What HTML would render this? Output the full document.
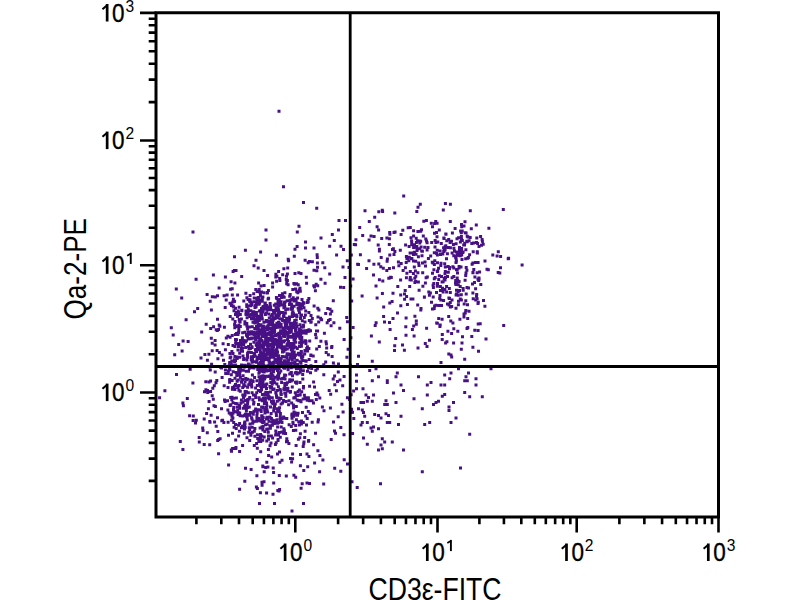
<!DOCTYPE html>
<html><head><meta charset="utf-8"><style>
html,body{margin:0;padding:0;background:#fff;width:800px;height:600px;overflow:hidden}
svg{display:block}
text{font-family:"Liberation Sans",sans-serif;fill:#000}
.tk{font-size:25px;stroke:#000;stroke-width:0.35px}
.sp{font-size:15.6px}
.ti{font-size:30.5px}
</style></head><body>
<svg width="800" height="600" viewBox="0 0 800 600">
<path d="M277.5 109.8h3.0v3.0h-3.0zM282.0 185.2h3.0v3.0h-3.0zM302.0 201.0h3.0v3.0h-3.0zM315.2 206.8h3.0v3.0h-3.0zM191.5 230.5h3.0v3.0h-3.0zM264.5 228.5h3.0v3.0h-3.0zM264.5 238.5h3.0v3.0h-3.0zM297.5 224.8h3.0v3.0h-3.0zM295.8 230.5h3.0v3.0h-3.0zM337.5 219.0h3.0v3.0h-3.0zM344.0 219.0h3.0v3.0h-3.0zM337.0 228.5h3.0v3.0h-3.0zM330.8 233.0h3.0v3.0h-3.0zM319.5 236.5h3.0v3.0h-3.0zM332.8 239.0h3.0v3.0h-3.0zM304.0 240.5h3.0v3.0h-3.0zM304.0 246.5h3.0v3.0h-3.0zM312.5 246.5h3.0v3.0h-3.0zM328.2 244.8h3.0v3.0h-3.0zM339.5 244.8h3.0v3.0h-3.0zM342.0 248.0h3.0v3.0h-3.0zM352.8 243.0h3.0v3.0h-3.0zM357.0 354.8h3.0v3.0h-3.0zM370.8 359.8h3.0v3.0h-3.0zM449.5 353.5h3.0v3.0h-3.0zM450.2 355.5h3.0v3.0h-3.0zM463.2 357.8h3.0v3.0h-3.0zM477.0 349.8h3.0v3.0h-3.0zM439.5 361.0h3.0v3.0h-3.0zM368.2 369.0h3.0v3.0h-3.0zM374.5 367.2h3.0v3.0h-3.0zM355.0 373.5h3.0v3.0h-3.0zM377.0 375.2h3.0v3.0h-3.0zM395.8 371.5h3.0v3.0h-3.0zM394.5 375.2h3.0v3.0h-3.0zM417.0 375.2h3.0v3.0h-3.0zM443.2 373.5h3.0v3.0h-3.0zM449.5 371.5h3.0v3.0h-3.0zM457.0 367.2h3.0v3.0h-3.0zM467.0 371.5h3.0v3.0h-3.0zM464.5 375.2h3.0v3.0h-3.0zM474.5 377.2h3.0v3.0h-3.0zM489.5 367.2h3.0v3.0h-3.0zM355.0 379.8h3.0v3.0h-3.0zM370.8 379.2h3.0v3.0h-3.0zM385.8 379.2h3.0v3.0h-3.0zM385.8 381.0h3.0v3.0h-3.0zM399.5 383.5h3.0v3.0h-3.0zM425.8 383.5h3.0v3.0h-3.0zM429.5 381.0h3.0v3.0h-3.0zM439.5 383.5h3.0v3.0h-3.0zM443.2 383.5h3.0v3.0h-3.0zM448.2 377.2h3.0v3.0h-3.0zM463.2 379.2h3.0v3.0h-3.0zM465.8 379.2h3.0v3.0h-3.0zM474.5 383.5h3.0v3.0h-3.0zM355.0 387.2h3.0v3.0h-3.0zM361.5 387.2h3.0v3.0h-3.0zM402.0 389.0h3.0v3.0h-3.0zM392.0 391.5h3.0v3.0h-3.0zM364.5 393.5h3.0v3.0h-3.0zM367.0 396.0h3.0v3.0h-3.0zM372.0 393.5h3.0v3.0h-3.0zM425.8 393.5h3.0v3.0h-3.0zM440.8 394.8h3.0v3.0h-3.0zM443.2 393.0h3.0v3.0h-3.0zM463.2 391.0h3.0v3.0h-3.0zM468.2 395.2h3.0v3.0h-3.0zM480.8 395.2h3.0v3.0h-3.0zM359.5 401.0h3.0v3.0h-3.0zM362.0 401.0h3.0v3.0h-3.0zM370.8 399.8h3.0v3.0h-3.0zM365.8 399.8h3.0v3.0h-3.0zM384.5 399.2h3.0v3.0h-3.0zM385.8 403.0h3.0v3.0h-3.0zM383.2 403.0h3.0v3.0h-3.0zM394.5 401.0h3.0v3.0h-3.0zM412.5 397.2h3.0v3.0h-3.0zM432.0 403.0h3.0v3.0h-3.0zM434.5 401.0h3.0v3.0h-3.0zM437.0 399.8h3.0v3.0h-3.0zM452.0 401.0h3.0v3.0h-3.0zM447.5 405.5h3.0v3.0h-3.0zM447.5 409.0h3.0v3.0h-3.0zM420.8 407.2h3.0v3.0h-3.0zM357.0 407.2h3.0v3.0h-3.0zM360.8 408.5h3.0v3.0h-3.0zM362.0 411.0h3.0v3.0h-3.0zM363.2 414.8h3.0v3.0h-3.0zM373.2 413.0h3.0v3.0h-3.0zM377.0 414.0h3.0v3.0h-3.0zM379.5 416.5h3.0v3.0h-3.0zM384.5 412.2h3.0v3.0h-3.0zM387.0 414.0h3.0v3.0h-3.0zM399.5 414.8h3.0v3.0h-3.0zM360.8 421.0h3.0v3.0h-3.0zM359.5 423.5h3.0v3.0h-3.0zM365.8 421.0h3.0v3.0h-3.0zM385.8 421.0h3.0v3.0h-3.0zM388.2 421.0h3.0v3.0h-3.0zM397.0 423.0h3.0v3.0h-3.0zM423.2 423.0h3.0v3.0h-3.0zM428.2 421.0h3.0v3.0h-3.0zM449.5 421.0h3.0v3.0h-3.0zM454.5 416.5h3.0v3.0h-3.0zM369.5 426.5h3.0v3.0h-3.0zM372.0 425.5h3.0v3.0h-3.0zM370.8 429.8h3.0v3.0h-3.0zM377.0 427.2h3.0v3.0h-3.0zM362.0 436.5h3.0v3.0h-3.0zM365.8 442.8h3.0v3.0h-3.0zM380.8 437.2h3.0v3.0h-3.0zM383.2 440.5h3.0v3.0h-3.0zM390.8 440.5h3.0v3.0h-3.0zM379.5 443.5h3.0v3.0h-3.0zM377.0 448.5h3.0v3.0h-3.0zM380.8 447.2h3.0v3.0h-3.0zM402.0 448.5h3.0v3.0h-3.0zM468.2 432.8h3.0v3.0h-3.0zM459.0 466.5h3.0v3.0h-3.0zM420.8 470.2h3.0v3.0h-3.0zM379.0 482.2h3.0v3.0h-3.0zM507.1 256.7h3.0v3.0h-3.0zM258.0 502.0h3.0v3.0h-3.0zM273.0 502.0h3.0v3.0h-3.0zM290.5 509.5h3.0v3.0h-3.0zM302.0 502.0h3.0v3.0h-3.0zM363.5 209.2h3.0v3.0h-3.0zM381.1 209.9h3.0v3.0h-3.0zM361.2 234.0h3.0v3.0h-3.0zM373.2 215.8h3.0v3.0h-3.0zM377.3 210.3h3.0v3.0h-3.0zM380.8 208.7h3.0v3.0h-3.0zM402.2 194.6h3.0v3.0h-3.0zM393.3 211.4h3.0v3.0h-3.0zM418.8 202.8h3.0v3.0h-3.0zM416.5 205.8h3.0v3.0h-3.0zM415.3 209.9h3.0v3.0h-3.0zM429.8 221.7h3.0v3.0h-3.0zM433.1 222.0h3.0v3.0h-3.0zM443.9 201.9h3.0v3.0h-3.0zM448.9 202.7h3.0v3.0h-3.0zM441.8 208.5h3.0v3.0h-3.0zM468.8 209.3h3.0v3.0h-3.0zM501.8 208.1h3.0v3.0h-3.0zM377.1 228.5h3.0v3.0h-3.0zM367.6 238.5h3.0v3.0h-3.0zM354.1 243.2h3.0v3.0h-3.0zM354.4 238.2h3.0v3.0h-3.0zM369.5 234.6h3.0v3.0h-3.0zM358.2 225.9h3.0v3.0h-3.0zM375.6 225.2h3.0v3.0h-3.0zM372.6 234.9h3.0v3.0h-3.0zM367.8 219.9h3.0v3.0h-3.0zM385.4 236.6h3.0v3.0h-3.0zM388.4 232.7h3.0v3.0h-3.0zM392.5 231.0h3.0v3.0h-3.0zM406.7 226.2h3.0v3.0h-3.0zM376.7 243.4h3.0v3.0h-3.0zM393.4 250.1h3.0v3.0h-3.0zM391.9 247.3h3.0v3.0h-3.0zM404.1 243.6h3.0v3.0h-3.0zM387.8 242.9h3.0v3.0h-3.0zM393.6 230.5h3.0v3.0h-3.0zM387.9 237.2h3.0v3.0h-3.0zM380.2 236.9h3.0v3.0h-3.0zM388.2 231.1h3.0v3.0h-3.0zM401.3 228.7h3.0v3.0h-3.0zM418.0 239.6h3.0v3.0h-3.0zM424.3 237.6h3.0v3.0h-3.0zM412.1 246.0h3.0v3.0h-3.0zM415.6 248.9h3.0v3.0h-3.0zM431.0 225.3h3.0v3.0h-3.0zM423.2 245.8h3.0v3.0h-3.0zM413.7 245.8h3.0v3.0h-3.0zM412.1 229.3h3.0v3.0h-3.0zM434.4 241.1h3.0v3.0h-3.0zM419.2 239.7h3.0v3.0h-3.0zM413.0 243.2h3.0v3.0h-3.0zM415.9 239.3h3.0v3.0h-3.0zM422.3 219.7h3.0v3.0h-3.0zM421.8 234.6h3.0v3.0h-3.0zM410.1 239.4h3.0v3.0h-3.0zM433.0 231.8h3.0v3.0h-3.0zM419.2 229.8h3.0v3.0h-3.0zM425.6 241.3h3.0v3.0h-3.0zM425.0 239.4h3.0v3.0h-3.0zM410.2 240.9h3.0v3.0h-3.0zM414.9 241.0h3.0v3.0h-3.0zM416.4 229.9h3.0v3.0h-3.0zM415.3 245.0h3.0v3.0h-3.0zM418.2 247.2h3.0v3.0h-3.0zM409.5 236.2h3.0v3.0h-3.0zM399.6 233.1h3.0v3.0h-3.0zM424.9 219.1h3.0v3.0h-3.0zM419.6 245.6h3.0v3.0h-3.0zM412.1 234.6h3.0v3.0h-3.0zM418.3 241.6h3.0v3.0h-3.0zM426.5 246.0h3.0v3.0h-3.0zM414.7 236.7h3.0v3.0h-3.0zM408.8 225.9h3.0v3.0h-3.0zM420.0 228.2h3.0v3.0h-3.0zM410.2 243.3h3.0v3.0h-3.0zM448.9 246.3h3.0v3.0h-3.0zM448.8 219.9h3.0v3.0h-3.0zM433.6 239.1h3.0v3.0h-3.0zM446.8 246.1h3.0v3.0h-3.0zM450.0 239.7h3.0v3.0h-3.0zM439.0 252.9h3.0v3.0h-3.0zM442.6 237.0h3.0v3.0h-3.0zM444.3 232.5h3.0v3.0h-3.0zM439.8 241.9h3.0v3.0h-3.0zM442.6 249.5h3.0v3.0h-3.0zM435.0 230.9h3.0v3.0h-3.0zM444.3 244.2h3.0v3.0h-3.0zM437.8 228.4h3.0v3.0h-3.0zM445.3 239.2h3.0v3.0h-3.0zM444.2 245.8h3.0v3.0h-3.0zM436.3 240.4h3.0v3.0h-3.0zM435.5 235.3h3.0v3.0h-3.0zM447.2 238.0h3.0v3.0h-3.0zM445.9 252.3h3.0v3.0h-3.0zM457.0 236.3h3.0v3.0h-3.0zM450.9 231.5h3.0v3.0h-3.0zM435.6 221.8h3.0v3.0h-3.0zM448.6 241.0h3.0v3.0h-3.0zM444.5 232.7h3.0v3.0h-3.0zM433.5 245.4h3.0v3.0h-3.0zM434.2 220.1h3.0v3.0h-3.0zM454.6 242.2h3.0v3.0h-3.0zM430.2 241.1h3.0v3.0h-3.0zM442.3 236.4h3.0v3.0h-3.0zM459.8 231.2h3.0v3.0h-3.0zM459.9 247.8h3.0v3.0h-3.0zM464.6 231.6h3.0v3.0h-3.0zM475.0 240.9h3.0v3.0h-3.0zM467.6 239.3h3.0v3.0h-3.0zM468.7 235.9h3.0v3.0h-3.0zM460.0 238.0h3.0v3.0h-3.0zM481.7 242.8h3.0v3.0h-3.0zM480.9 239.7h3.0v3.0h-3.0zM460.0 222.9h3.0v3.0h-3.0zM475.7 251.1h3.0v3.0h-3.0zM476.1 241.9h3.0v3.0h-3.0zM475.3 236.4h3.0v3.0h-3.0zM459.9 235.0h3.0v3.0h-3.0zM480.0 243.7h3.0v3.0h-3.0zM460.8 239.1h3.0v3.0h-3.0zM472.1 241.6h3.0v3.0h-3.0zM465.7 240.2h3.0v3.0h-3.0zM465.7 234.8h3.0v3.0h-3.0zM460.7 229.6h3.0v3.0h-3.0zM453.6 226.9h3.0v3.0h-3.0zM462.5 224.4h3.0v3.0h-3.0zM470.3 242.1h3.0v3.0h-3.0zM463.2 241.7h3.0v3.0h-3.0zM463.0 243.5h3.0v3.0h-3.0zM458.7 254.3h3.0v3.0h-3.0zM474.8 223.6h3.0v3.0h-3.0zM466.5 235.4h3.0v3.0h-3.0zM458.9 240.4h3.0v3.0h-3.0zM480.6 237.9h3.0v3.0h-3.0zM465.3 239.8h3.0v3.0h-3.0zM463.5 220.2h3.0v3.0h-3.0zM459.1 229.4h3.0v3.0h-3.0zM469.8 227.2h3.0v3.0h-3.0zM457.9 248.6h3.0v3.0h-3.0zM455.5 237.3h3.0v3.0h-3.0zM463.8 231.2h3.0v3.0h-3.0zM460.2 225.2h3.0v3.0h-3.0zM462.2 243.6h3.0v3.0h-3.0zM496.8 250.3h3.0v3.0h-3.0zM479.1 234.9h3.0v3.0h-3.0zM477.5 245.1h3.0v3.0h-3.0zM491.3 253.4h3.0v3.0h-3.0zM487.4 226.8h3.0v3.0h-3.0zM231.6 270.1h3.0v3.0h-3.0zM233.0 255.3h3.0v3.0h-3.0zM243.9 248.8h3.0v3.0h-3.0zM232.9 268.9h3.0v3.0h-3.0zM254.5 258.7h3.0v3.0h-3.0zM259.1 250.4h3.0v3.0h-3.0zM274.4 272.8h3.0v3.0h-3.0zM256.7 266.4h3.0v3.0h-3.0zM274.9 253.8h3.0v3.0h-3.0zM252.5 264.3h3.0v3.0h-3.0zM266.1 273.9h3.0v3.0h-3.0zM277.1 269.9h3.0v3.0h-3.0zM282.4 267.2h3.0v3.0h-3.0zM287.1 259.3h3.0v3.0h-3.0zM285.9 272.4h3.0v3.0h-3.0zM285.0 274.8h3.0v3.0h-3.0zM292.8 254.8h3.0v3.0h-3.0zM310.9 260.3h3.0v3.0h-3.0zM293.5 271.9h3.0v3.0h-3.0zM293.5 247.7h3.0v3.0h-3.0zM306.7 261.3h3.0v3.0h-3.0zM286.7 257.8h3.0v3.0h-3.0zM286.2 266.5h3.0v3.0h-3.0zM295.6 244.9h3.0v3.0h-3.0zM315.9 261.6h3.0v3.0h-3.0zM315.6 253.3h3.0v3.0h-3.0zM321.3 261.2h3.0v3.0h-3.0zM308.0 260.0h3.0v3.0h-3.0zM323.3 266.2h3.0v3.0h-3.0zM315.8 256.0h3.0v3.0h-3.0zM315.3 269.2h3.0v3.0h-3.0zM303.6 258.8h3.0v3.0h-3.0zM312.5 268.8h3.0v3.0h-3.0zM316.0 265.8h3.0v3.0h-3.0zM349.8 253.5h3.0v3.0h-3.0zM347.5 266.1h3.0v3.0h-3.0zM341.5 265.6h3.0v3.0h-3.0zM345.8 259.3h3.0v3.0h-3.0zM335.1 253.5h3.0v3.0h-3.0zM351.6 277.5h3.0v3.0h-3.0zM358.9 253.3h3.0v3.0h-3.0zM372.0 273.5h3.0v3.0h-3.0zM372.4 262.8h3.0v3.0h-3.0zM367.5 259.3h3.0v3.0h-3.0zM356.1 262.7h3.0v3.0h-3.0zM357.0 263.0h3.0v3.0h-3.0zM379.3 265.3h3.0v3.0h-3.0zM365.1 266.9h3.0v3.0h-3.0zM392.0 266.3h3.0v3.0h-3.0zM385.9 257.4h3.0v3.0h-3.0zM392.5 252.9h3.0v3.0h-3.0zM385.6 259.7h3.0v3.0h-3.0zM389.8 276.1h3.0v3.0h-3.0zM381.8 266.8h3.0v3.0h-3.0zM385.3 269.1h3.0v3.0h-3.0zM397.4 264.2h3.0v3.0h-3.0zM399.1 278.6h3.0v3.0h-3.0zM398.8 248.7h3.0v3.0h-3.0zM401.6 269.0h3.0v3.0h-3.0zM396.9 260.6h3.0v3.0h-3.0zM404.9 255.1h3.0v3.0h-3.0zM377.3 262.5h3.0v3.0h-3.0zM405.4 271.8h3.0v3.0h-3.0zM389.1 275.8h3.0v3.0h-3.0zM391.0 248.1h3.0v3.0h-3.0zM404.7 261.1h3.0v3.0h-3.0zM379.7 256.1h3.0v3.0h-3.0zM387.9 267.1h3.0v3.0h-3.0zM388.3 253.4h3.0v3.0h-3.0zM377.9 249.4h3.0v3.0h-3.0zM377.9 247.8h3.0v3.0h-3.0zM431.0 271.8h3.0v3.0h-3.0zM425.6 248.6h3.0v3.0h-3.0zM416.9 255.2h3.0v3.0h-3.0zM421.2 271.3h3.0v3.0h-3.0zM412.8 251.1h3.0v3.0h-3.0zM399.7 261.9h3.0v3.0h-3.0zM408.6 251.4h3.0v3.0h-3.0zM409.9 251.6h3.0v3.0h-3.0zM413.9 269.6h3.0v3.0h-3.0zM406.3 256.5h3.0v3.0h-3.0zM403.9 266.3h3.0v3.0h-3.0zM413.0 250.8h3.0v3.0h-3.0zM415.5 247.7h3.0v3.0h-3.0zM410.4 257.1h3.0v3.0h-3.0zM420.2 249.4h3.0v3.0h-3.0zM433.3 259.3h3.0v3.0h-3.0zM416.4 271.3h3.0v3.0h-3.0zM404.9 276.3h3.0v3.0h-3.0zM417.5 264.1h3.0v3.0h-3.0zM417.2 261.5h3.0v3.0h-3.0zM412.8 265.5h3.0v3.0h-3.0zM426.9 257.1h3.0v3.0h-3.0zM414.2 259.8h3.0v3.0h-3.0zM421.0 261.5h3.0v3.0h-3.0zM407.8 255.7h3.0v3.0h-3.0zM405.4 257.3h3.0v3.0h-3.0zM414.5 252.7h3.0v3.0h-3.0zM413.3 276.7h3.0v3.0h-3.0zM432.8 277.2h3.0v3.0h-3.0zM407.6 245.0h3.0v3.0h-3.0zM420.9 249.8h3.0v3.0h-3.0zM424.6 276.3h3.0v3.0h-3.0zM412.0 259.6h3.0v3.0h-3.0zM410.1 257.3h3.0v3.0h-3.0zM411.9 272.1h3.0v3.0h-3.0zM425.8 275.4h3.0v3.0h-3.0zM408.8 270.0h3.0v3.0h-3.0zM412.0 253.1h3.0v3.0h-3.0zM432.4 268.3h3.0v3.0h-3.0zM407.3 259.2h3.0v3.0h-3.0zM424.0 264.6h3.0v3.0h-3.0zM420.5 254.2h3.0v3.0h-3.0zM442.2 250.0h3.0v3.0h-3.0zM432.9 262.9h3.0v3.0h-3.0zM443.8 265.6h3.0v3.0h-3.0zM441.3 252.4h3.0v3.0h-3.0zM435.1 252.0h3.0v3.0h-3.0zM435.9 270.0h3.0v3.0h-3.0zM448.0 267.3h3.0v3.0h-3.0zM437.8 274.3h3.0v3.0h-3.0zM457.7 252.7h3.0v3.0h-3.0zM442.1 246.3h3.0v3.0h-3.0zM450.6 251.5h3.0v3.0h-3.0zM433.0 251.2h3.0v3.0h-3.0zM437.0 266.7h3.0v3.0h-3.0zM436.0 261.2h3.0v3.0h-3.0zM455.0 268.3h3.0v3.0h-3.0zM438.6 249.4h3.0v3.0h-3.0zM452.4 246.7h3.0v3.0h-3.0zM443.2 262.2h3.0v3.0h-3.0zM435.9 253.4h3.0v3.0h-3.0zM431.5 261.5h3.0v3.0h-3.0zM439.5 261.7h3.0v3.0h-3.0zM423.5 260.4h3.0v3.0h-3.0zM436.2 269.5h3.0v3.0h-3.0zM443.6 245.2h3.0v3.0h-3.0zM454.6 256.3h3.0v3.0h-3.0zM454.7 250.6h3.0v3.0h-3.0zM442.9 246.4h3.0v3.0h-3.0zM445.0 257.2h3.0v3.0h-3.0zM446.0 275.1h3.0v3.0h-3.0zM454.6 257.3h3.0v3.0h-3.0zM443.6 248.5h3.0v3.0h-3.0zM452.3 266.6h3.0v3.0h-3.0zM451.4 265.2h3.0v3.0h-3.0zM435.7 248.7h3.0v3.0h-3.0zM432.8 251.2h3.0v3.0h-3.0zM451.9 243.0h3.0v3.0h-3.0zM430.8 260.7h3.0v3.0h-3.0zM446.8 270.7h3.0v3.0h-3.0zM439.3 263.9h3.0v3.0h-3.0zM446.7 264.9h3.0v3.0h-3.0zM429.2 254.4h3.0v3.0h-3.0zM443.8 270.1h3.0v3.0h-3.0zM448.1 266.1h3.0v3.0h-3.0zM465.4 268.7h3.0v3.0h-3.0zM471.7 250.3h3.0v3.0h-3.0zM464.7 265.9h3.0v3.0h-3.0zM459.5 250.2h3.0v3.0h-3.0zM457.6 264.9h3.0v3.0h-3.0zM455.7 267.9h3.0v3.0h-3.0zM475.9 251.5h3.0v3.0h-3.0zM454.5 261.0h3.0v3.0h-3.0zM470.6 262.8h3.0v3.0h-3.0zM471.5 270.9h3.0v3.0h-3.0zM471.4 261.5h3.0v3.0h-3.0zM461.6 250.5h3.0v3.0h-3.0zM456.2 252.7h3.0v3.0h-3.0zM454.3 254.6h3.0v3.0h-3.0zM461.1 250.9h3.0v3.0h-3.0zM460.1 247.1h3.0v3.0h-3.0zM468.1 253.2h3.0v3.0h-3.0zM456.0 253.7h3.0v3.0h-3.0zM476.6 261.0h3.0v3.0h-3.0zM475.8 250.2h3.0v3.0h-3.0zM458.9 253.3h3.0v3.0h-3.0zM464.5 271.5h3.0v3.0h-3.0zM466.9 256.0h3.0v3.0h-3.0zM478.1 270.5h3.0v3.0h-3.0zM460.5 258.0h3.0v3.0h-3.0zM458.0 246.1h3.0v3.0h-3.0zM457.5 266.6h3.0v3.0h-3.0zM452.3 254.3h3.0v3.0h-3.0zM476.5 277.8h3.0v3.0h-3.0zM464.2 257.3h3.0v3.0h-3.0zM464.2 273.9h3.0v3.0h-3.0zM454.1 255.8h3.0v3.0h-3.0zM483.5 259.6h3.0v3.0h-3.0zM474.0 261.1h3.0v3.0h-3.0zM459.1 252.3h3.0v3.0h-3.0zM471.4 271.2h3.0v3.0h-3.0zM458.2 254.1h3.0v3.0h-3.0zM464.4 248.3h3.0v3.0h-3.0zM453.0 249.6h3.0v3.0h-3.0zM485.5 267.7h3.0v3.0h-3.0zM466.3 256.8h3.0v3.0h-3.0zM460.2 253.5h3.0v3.0h-3.0zM454.9 259.4h3.0v3.0h-3.0zM456.0 271.4h3.0v3.0h-3.0zM457.6 280.0h3.0v3.0h-3.0zM475.6 271.3h3.0v3.0h-3.0zM459.5 265.4h3.0v3.0h-3.0zM457.6 250.7h3.0v3.0h-3.0zM499.0 266.2h3.0v3.0h-3.0zM496.7 270.9h3.0v3.0h-3.0zM498.3 271.6h3.0v3.0h-3.0zM499.1 254.9h3.0v3.0h-3.0zM506.7 257.3h3.0v3.0h-3.0zM486.8 268.3h3.0v3.0h-3.0zM495.6 254.4h3.0v3.0h-3.0zM520.6 263.6h3.0v3.0h-3.0zM174.8 287.5h3.0v3.0h-3.0zM194.6 277.8h3.0v3.0h-3.0zM205.6 293.1h3.0v3.0h-3.0zM222.6 294.2h3.0v3.0h-3.0zM217.6 286.5h3.0v3.0h-3.0zM213.8 295.5h3.0v3.0h-3.0zM210.8 295.2h3.0v3.0h-3.0zM216.0 294.3h3.0v3.0h-3.0zM211.9 273.4h3.0v3.0h-3.0zM223.9 275.5h3.0v3.0h-3.0zM244.4 291.8h3.0v3.0h-3.0zM254.5 303.9h3.0v3.0h-3.0zM231.9 297.7h3.0v3.0h-3.0zM229.6 280.3h3.0v3.0h-3.0zM229.1 287.7h3.0v3.0h-3.0zM245.4 296.3h3.0v3.0h-3.0zM234.5 269.0h3.0v3.0h-3.0zM233.4 281.6h3.0v3.0h-3.0zM230.7 287.3h3.0v3.0h-3.0zM248.6 293.9h3.0v3.0h-3.0zM240.2 275.0h3.0v3.0h-3.0zM257.1 281.4h3.0v3.0h-3.0zM257.7 287.9h3.0v3.0h-3.0zM259.5 284.4h3.0v3.0h-3.0zM260.8 299.8h3.0v3.0h-3.0zM259.0 294.6h3.0v3.0h-3.0zM265.8 291.4h3.0v3.0h-3.0zM275.1 279.7h3.0v3.0h-3.0zM262.6 283.9h3.0v3.0h-3.0zM283.4 291.2h3.0v3.0h-3.0zM256.6 289.8h3.0v3.0h-3.0zM266.0 290.9h3.0v3.0h-3.0zM275.4 274.8h3.0v3.0h-3.0zM258.3 298.5h3.0v3.0h-3.0zM266.9 289.0h3.0v3.0h-3.0zM255.6 290.0h3.0v3.0h-3.0zM278.2 277.1h3.0v3.0h-3.0zM262.5 268.9h3.0v3.0h-3.0zM277.8 297.9h3.0v3.0h-3.0zM258.2 290.5h3.0v3.0h-3.0zM254.3 288.1h3.0v3.0h-3.0zM271.1 285.5h3.0v3.0h-3.0zM260.7 297.0h3.0v3.0h-3.0zM274.3 275.6h3.0v3.0h-3.0zM260.1 290.6h3.0v3.0h-3.0zM281.2 273.2h3.0v3.0h-3.0zM293.2 282.7h3.0v3.0h-3.0zM296.7 283.2h3.0v3.0h-3.0zM292.4 281.9h3.0v3.0h-3.0zM285.9 279.0h3.0v3.0h-3.0zM295.2 290.2h3.0v3.0h-3.0zM285.3 280.3h3.0v3.0h-3.0zM298.4 288.1h3.0v3.0h-3.0zM286.6 283.2h3.0v3.0h-3.0zM299.5 272.1h3.0v3.0h-3.0zM285.2 282.3h3.0v3.0h-3.0zM281.9 295.3h3.0v3.0h-3.0zM278.0 294.0h3.0v3.0h-3.0zM296.4 291.3h3.0v3.0h-3.0zM297.6 288.5h3.0v3.0h-3.0zM278.4 279.0h3.0v3.0h-3.0zM284.8 278.0h3.0v3.0h-3.0zM271.1 281.4h3.0v3.0h-3.0zM291.7 296.3h3.0v3.0h-3.0zM304.8 275.7h3.0v3.0h-3.0zM306.7 299.9h3.0v3.0h-3.0zM296.1 296.6h3.0v3.0h-3.0zM301.3 303.5h3.0v3.0h-3.0zM297.3 271.3h3.0v3.0h-3.0zM295.1 282.2h3.0v3.0h-3.0zM291.3 287.9h3.0v3.0h-3.0zM298.5 286.7h3.0v3.0h-3.0zM288.5 300.6h3.0v3.0h-3.0zM280.9 292.2h3.0v3.0h-3.0zM280.9 293.6h3.0v3.0h-3.0zM300.5 297.9h3.0v3.0h-3.0zM288.7 292.9h3.0v3.0h-3.0zM294.0 287.4h3.0v3.0h-3.0zM288.2 294.7h3.0v3.0h-3.0zM313.9 289.2h3.0v3.0h-3.0zM319.4 277.8h3.0v3.0h-3.0zM313.0 285.6h3.0v3.0h-3.0zM312.3 284.3h3.0v3.0h-3.0zM316.2 284.2h3.0v3.0h-3.0zM328.2 272.6h3.0v3.0h-3.0zM314.7 282.7h3.0v3.0h-3.0zM323.6 281.8h3.0v3.0h-3.0zM298.8 289.7h3.0v3.0h-3.0zM305.1 281.7h3.0v3.0h-3.0zM342.2 286.0h3.0v3.0h-3.0zM339.0 285.7h3.0v3.0h-3.0zM343.5 276.0h3.0v3.0h-3.0zM350.2 299.4h3.0v3.0h-3.0zM331.8 299.3h3.0v3.0h-3.0zM360.6 294.6h3.0v3.0h-3.0zM375.6 296.5h3.0v3.0h-3.0zM374.5 284.4h3.0v3.0h-3.0zM349.2 284.5h3.0v3.0h-3.0zM377.9 278.2h3.0v3.0h-3.0zM381.3 279.4h3.0v3.0h-3.0zM385.3 269.1h3.0v3.0h-3.0zM391.5 291.8h3.0v3.0h-3.0zM399.2 293.5h3.0v3.0h-3.0zM387.3 276.7h3.0v3.0h-3.0zM387.6 276.7h3.0v3.0h-3.0zM403.0 292.4h3.0v3.0h-3.0zM396.3 285.1h3.0v3.0h-3.0zM390.6 299.9h3.0v3.0h-3.0zM380.9 291.9h3.0v3.0h-3.0zM405.1 295.1h3.0v3.0h-3.0zM403.1 297.8h3.0v3.0h-3.0zM413.4 281.1h3.0v3.0h-3.0zM421.4 284.7h3.0v3.0h-3.0zM414.1 280.1h3.0v3.0h-3.0zM427.9 293.8h3.0v3.0h-3.0zM422.9 295.6h3.0v3.0h-3.0zM408.2 285.0h3.0v3.0h-3.0zM409.8 278.5h3.0v3.0h-3.0zM435.0 291.0h3.0v3.0h-3.0zM416.9 280.6h3.0v3.0h-3.0zM408.5 278.2h3.0v3.0h-3.0zM409.5 297.6h3.0v3.0h-3.0zM414.3 274.7h3.0v3.0h-3.0zM431.6 283.8h3.0v3.0h-3.0zM417.6 288.7h3.0v3.0h-3.0zM403.7 288.9h3.0v3.0h-3.0zM408.8 275.9h3.0v3.0h-3.0zM422.9 295.8h3.0v3.0h-3.0zM411.4 297.5h3.0v3.0h-3.0zM442.7 276.7h3.0v3.0h-3.0zM438.9 285.0h3.0v3.0h-3.0zM433.7 275.9h3.0v3.0h-3.0zM448.8 301.1h3.0v3.0h-3.0zM445.1 284.9h3.0v3.0h-3.0zM450.6 276.3h3.0v3.0h-3.0zM441.6 290.6h3.0v3.0h-3.0zM456.2 279.0h3.0v3.0h-3.0zM448.0 296.9h3.0v3.0h-3.0zM436.0 282.1h3.0v3.0h-3.0zM443.4 287.9h3.0v3.0h-3.0zM437.4 303.9h3.0v3.0h-3.0zM454.6 293.6h3.0v3.0h-3.0zM427.3 290.6h3.0v3.0h-3.0zM445.1 290.5h3.0v3.0h-3.0zM447.8 287.1h3.0v3.0h-3.0zM443.5 278.6h3.0v3.0h-3.0zM423.9 281.6h3.0v3.0h-3.0zM442.7 277.0h3.0v3.0h-3.0zM432.3 281.9h3.0v3.0h-3.0zM439.3 298.6h3.0v3.0h-3.0zM442.1 299.1h3.0v3.0h-3.0zM438.9 288.9h3.0v3.0h-3.0zM457.0 299.8h3.0v3.0h-3.0zM430.0 300.7h3.0v3.0h-3.0zM446.0 302.5h3.0v3.0h-3.0zM440.0 275.1h3.0v3.0h-3.0zM431.9 286.1h3.0v3.0h-3.0zM455.7 276.4h3.0v3.0h-3.0zM447.4 296.5h3.0v3.0h-3.0zM454.0 281.5h3.0v3.0h-3.0zM437.2 278.1h3.0v3.0h-3.0zM454.2 278.9h3.0v3.0h-3.0zM441.6 280.2h3.0v3.0h-3.0zM438.2 297.0h3.0v3.0h-3.0zM459.9 298.5h3.0v3.0h-3.0zM441.0 286.8h3.0v3.0h-3.0zM452.3 275.1h3.0v3.0h-3.0zM443.5 272.2h3.0v3.0h-3.0zM441.1 287.6h3.0v3.0h-3.0zM448.8 290.9h3.0v3.0h-3.0zM435.8 284.7h3.0v3.0h-3.0zM455.1 281.9h3.0v3.0h-3.0zM438.5 294.0h3.0v3.0h-3.0zM440.6 280.5h3.0v3.0h-3.0zM428.9 291.6h3.0v3.0h-3.0zM444.0 276.0h3.0v3.0h-3.0zM474.2 298.6h3.0v3.0h-3.0zM461.6 287.0h3.0v3.0h-3.0zM474.1 287.3h3.0v3.0h-3.0zM471.4 291.4h3.0v3.0h-3.0zM456.7 290.2h3.0v3.0h-3.0zM456.8 283.3h3.0v3.0h-3.0zM475.2 293.1h3.0v3.0h-3.0zM476.8 300.7h3.0v3.0h-3.0zM455.0 288.8h3.0v3.0h-3.0zM464.7 292.6h3.0v3.0h-3.0zM473.0 281.0h3.0v3.0h-3.0zM454.4 283.1h3.0v3.0h-3.0zM465.5 286.1h3.0v3.0h-3.0zM455.0 292.6h3.0v3.0h-3.0zM461.7 288.7h3.0v3.0h-3.0zM464.3 299.2h3.0v3.0h-3.0zM458.7 285.1h3.0v3.0h-3.0zM471.7 297.3h3.0v3.0h-3.0zM458.0 289.0h3.0v3.0h-3.0zM475.6 297.2h3.0v3.0h-3.0zM471.0 282.4h3.0v3.0h-3.0zM473.4 275.6h3.0v3.0h-3.0zM463.6 278.8h3.0v3.0h-3.0zM467.0 286.6h3.0v3.0h-3.0zM477.6 277.5h3.0v3.0h-3.0zM477.2 278.9h3.0v3.0h-3.0zM459.8 293.2h3.0v3.0h-3.0zM456.7 293.8h3.0v3.0h-3.0zM477.4 276.5h3.0v3.0h-3.0zM475.0 294.7h3.0v3.0h-3.0zM472.3 267.9h3.0v3.0h-3.0zM479.3 283.1h3.0v3.0h-3.0zM482.0 298.9h3.0v3.0h-3.0zM180.2 296.4h3.0v3.0h-3.0zM184.6 318.2h3.0v3.0h-3.0zM196.2 307.1h3.0v3.0h-3.0zM193.0 310.3h3.0v3.0h-3.0zM216.0 317.7h3.0v3.0h-3.0zM217.7 323.6h3.0v3.0h-3.0zM208.7 299.7h3.0v3.0h-3.0zM209.9 308.4h3.0v3.0h-3.0zM232.6 299.9h3.0v3.0h-3.0zM233.1 299.7h3.0v3.0h-3.0zM204.7 322.8h3.0v3.0h-3.0zM223.7 306.1h3.0v3.0h-3.0zM225.6 293.6h3.0v3.0h-3.0zM230.0 304.0h3.0v3.0h-3.0zM236.1 293.5h3.0v3.0h-3.0zM251.1 311.4h3.0v3.0h-3.0zM253.5 306.0h3.0v3.0h-3.0zM250.6 303.4h3.0v3.0h-3.0zM248.5 298.3h3.0v3.0h-3.0zM242.3 299.4h3.0v3.0h-3.0zM252.0 313.2h3.0v3.0h-3.0zM235.9 314.9h3.0v3.0h-3.0zM248.9 314.3h3.0v3.0h-3.0zM237.6 305.8h3.0v3.0h-3.0zM250.0 302.1h3.0v3.0h-3.0zM246.7 310.1h3.0v3.0h-3.0zM250.0 317.3h3.0v3.0h-3.0zM237.3 329.6h3.0v3.0h-3.0zM246.8 307.8h3.0v3.0h-3.0zM238.8 313.0h3.0v3.0h-3.0zM248.1 299.7h3.0v3.0h-3.0zM231.5 304.6h3.0v3.0h-3.0zM249.3 309.3h3.0v3.0h-3.0zM228.7 314.9h3.0v3.0h-3.0zM249.1 300.6h3.0v3.0h-3.0zM229.6 302.5h3.0v3.0h-3.0zM231.3 300.6h3.0v3.0h-3.0zM244.4 312.7h3.0v3.0h-3.0zM245.1 312.9h3.0v3.0h-3.0zM230.8 293.4h3.0v3.0h-3.0zM250.0 313.1h3.0v3.0h-3.0zM245.3 322.0h3.0v3.0h-3.0zM231.3 317.4h3.0v3.0h-3.0zM236.7 309.9h3.0v3.0h-3.0zM246.7 312.8h3.0v3.0h-3.0zM245.2 303.2h3.0v3.0h-3.0zM238.2 319.8h3.0v3.0h-3.0zM233.6 320.1h3.0v3.0h-3.0zM224.7 298.4h3.0v3.0h-3.0zM246.6 297.9h3.0v3.0h-3.0zM234.6 310.9h3.0v3.0h-3.0zM246.2 304.4h3.0v3.0h-3.0zM252.3 310.3h3.0v3.0h-3.0zM245.3 305.0h3.0v3.0h-3.0zM239.9 317.4h3.0v3.0h-3.0zM251.5 320.7h3.0v3.0h-3.0zM237.0 311.1h3.0v3.0h-3.0zM240.4 308.7h3.0v3.0h-3.0zM256.2 314.9h3.0v3.0h-3.0zM249.8 301.3h3.0v3.0h-3.0zM253.3 327.0h3.0v3.0h-3.0zM252.4 317.2h3.0v3.0h-3.0zM244.9 312.2h3.0v3.0h-3.0zM244.5 309.5h3.0v3.0h-3.0zM240.2 309.2h3.0v3.0h-3.0zM234.0 313.0h3.0v3.0h-3.0zM232.2 305.4h3.0v3.0h-3.0zM252.1 314.5h3.0v3.0h-3.0zM234.0 306.8h3.0v3.0h-3.0zM248.3 313.4h3.0v3.0h-3.0zM237.4 323.8h3.0v3.0h-3.0zM236.4 314.1h3.0v3.0h-3.0zM237.7 317.9h3.0v3.0h-3.0zM249.0 304.3h3.0v3.0h-3.0zM232.5 309.3h3.0v3.0h-3.0zM228.5 301.8h3.0v3.0h-3.0zM236.7 309.5h3.0v3.0h-3.0zM252.2 292.2h3.0v3.0h-3.0zM276.0 316.3h3.0v3.0h-3.0zM276.9 311.2h3.0v3.0h-3.0zM257.6 317.1h3.0v3.0h-3.0zM260.8 317.4h3.0v3.0h-3.0zM263.9 313.0h3.0v3.0h-3.0zM267.2 307.6h3.0v3.0h-3.0zM254.0 304.2h3.0v3.0h-3.0zM255.0 314.0h3.0v3.0h-3.0zM267.4 312.6h3.0v3.0h-3.0zM272.1 309.4h3.0v3.0h-3.0zM266.5 324.3h3.0v3.0h-3.0zM278.1 311.9h3.0v3.0h-3.0zM258.6 314.4h3.0v3.0h-3.0zM255.6 316.1h3.0v3.0h-3.0zM272.8 326.8h3.0v3.0h-3.0zM259.3 323.2h3.0v3.0h-3.0zM282.5 315.1h3.0v3.0h-3.0zM275.9 307.5h3.0v3.0h-3.0zM265.4 319.3h3.0v3.0h-3.0zM273.1 323.4h3.0v3.0h-3.0zM261.6 324.6h3.0v3.0h-3.0zM261.7 305.0h3.0v3.0h-3.0zM260.5 316.6h3.0v3.0h-3.0zM270.9 314.7h3.0v3.0h-3.0zM274.2 302.6h3.0v3.0h-3.0zM253.4 319.7h3.0v3.0h-3.0zM253.4 321.6h3.0v3.0h-3.0zM268.6 302.0h3.0v3.0h-3.0zM277.0 321.2h3.0v3.0h-3.0zM261.6 310.6h3.0v3.0h-3.0zM273.5 316.9h3.0v3.0h-3.0zM255.8 299.2h3.0v3.0h-3.0zM267.1 296.7h3.0v3.0h-3.0zM283.1 311.8h3.0v3.0h-3.0zM260.2 314.1h3.0v3.0h-3.0zM262.4 320.8h3.0v3.0h-3.0zM277.6 322.7h3.0v3.0h-3.0zM257.6 318.3h3.0v3.0h-3.0zM257.9 309.4h3.0v3.0h-3.0zM280.7 295.0h3.0v3.0h-3.0zM272.8 303.8h3.0v3.0h-3.0zM268.6 303.4h3.0v3.0h-3.0zM259.3 311.3h3.0v3.0h-3.0zM260.7 310.5h3.0v3.0h-3.0zM264.9 311.5h3.0v3.0h-3.0zM276.3 304.2h3.0v3.0h-3.0zM250.1 312.9h3.0v3.0h-3.0zM269.4 308.3h3.0v3.0h-3.0zM258.9 293.5h3.0v3.0h-3.0zM265.3 307.8h3.0v3.0h-3.0zM264.9 303.9h3.0v3.0h-3.0zM282.0 314.3h3.0v3.0h-3.0zM260.8 296.7h3.0v3.0h-3.0zM257.8 319.0h3.0v3.0h-3.0zM266.5 325.7h3.0v3.0h-3.0zM275.3 297.1h3.0v3.0h-3.0zM271.1 320.9h3.0v3.0h-3.0zM254.6 305.3h3.0v3.0h-3.0zM258.1 301.6h3.0v3.0h-3.0zM254.6 319.2h3.0v3.0h-3.0zM256.2 320.1h3.0v3.0h-3.0zM278.4 317.3h3.0v3.0h-3.0zM276.6 301.4h3.0v3.0h-3.0zM251.3 311.3h3.0v3.0h-3.0zM261.4 295.4h3.0v3.0h-3.0zM256.5 296.1h3.0v3.0h-3.0zM278.7 303.2h3.0v3.0h-3.0zM277.0 308.3h3.0v3.0h-3.0zM254.2 304.3h3.0v3.0h-3.0zM278.6 311.0h3.0v3.0h-3.0zM283.0 301.4h3.0v3.0h-3.0zM267.8 316.4h3.0v3.0h-3.0zM263.4 303.0h3.0v3.0h-3.0zM275.7 321.9h3.0v3.0h-3.0zM258.8 315.2h3.0v3.0h-3.0zM265.0 303.9h3.0v3.0h-3.0zM277.6 314.0h3.0v3.0h-3.0zM254.9 310.9h3.0v3.0h-3.0zM259.7 315.5h3.0v3.0h-3.0zM265.9 320.1h3.0v3.0h-3.0zM276.4 307.5h3.0v3.0h-3.0zM268.9 320.0h3.0v3.0h-3.0zM277.4 304.4h3.0v3.0h-3.0zM255.4 317.7h3.0v3.0h-3.0zM258.1 316.1h3.0v3.0h-3.0zM269.6 314.6h3.0v3.0h-3.0zM262.3 307.6h3.0v3.0h-3.0zM260.0 307.0h3.0v3.0h-3.0zM266.3 308.4h3.0v3.0h-3.0zM267.7 307.7h3.0v3.0h-3.0zM274.5 309.0h3.0v3.0h-3.0zM257.1 322.9h3.0v3.0h-3.0zM253.9 321.6h3.0v3.0h-3.0zM276.7 308.4h3.0v3.0h-3.0zM259.3 309.0h3.0v3.0h-3.0zM253.6 300.3h3.0v3.0h-3.0zM270.9 313.1h3.0v3.0h-3.0zM266.6 297.4h3.0v3.0h-3.0zM254.8 302.2h3.0v3.0h-3.0zM271.9 317.0h3.0v3.0h-3.0zM265.1 320.3h3.0v3.0h-3.0zM274.9 296.0h3.0v3.0h-3.0zM259.7 311.9h3.0v3.0h-3.0zM263.8 313.0h3.0v3.0h-3.0zM257.0 296.0h3.0v3.0h-3.0zM263.8 305.7h3.0v3.0h-3.0zM256.8 323.7h3.0v3.0h-3.0zM271.8 318.5h3.0v3.0h-3.0zM269.1 305.6h3.0v3.0h-3.0zM256.1 299.7h3.0v3.0h-3.0zM255.1 313.9h3.0v3.0h-3.0zM274.3 313.9h3.0v3.0h-3.0zM252.7 296.4h3.0v3.0h-3.0zM273.8 316.4h3.0v3.0h-3.0zM271.9 308.9h3.0v3.0h-3.0zM275.6 313.6h3.0v3.0h-3.0zM262.5 291.3h3.0v3.0h-3.0zM271.9 323.6h3.0v3.0h-3.0zM272.1 311.2h3.0v3.0h-3.0zM274.5 306.3h3.0v3.0h-3.0zM283.0 319.1h3.0v3.0h-3.0zM266.5 305.6h3.0v3.0h-3.0zM260.9 306.5h3.0v3.0h-3.0zM274.8 326.1h3.0v3.0h-3.0zM269.7 318.1h3.0v3.0h-3.0zM252.4 300.3h3.0v3.0h-3.0zM282.4 306.2h3.0v3.0h-3.0zM263.8 301.4h3.0v3.0h-3.0zM261.9 328.1h3.0v3.0h-3.0zM269.7 321.1h3.0v3.0h-3.0zM255.3 297.0h3.0v3.0h-3.0zM257.5 302.8h3.0v3.0h-3.0zM260.2 313.5h3.0v3.0h-3.0zM269.8 319.8h3.0v3.0h-3.0zM270.9 320.6h3.0v3.0h-3.0zM273.3 311.4h3.0v3.0h-3.0zM248.5 315.0h3.0v3.0h-3.0zM286.1 307.4h3.0v3.0h-3.0zM301.7 301.1h3.0v3.0h-3.0zM286.5 317.2h3.0v3.0h-3.0zM290.0 321.7h3.0v3.0h-3.0zM288.8 298.7h3.0v3.0h-3.0zM309.7 320.3h3.0v3.0h-3.0zM302.3 301.7h3.0v3.0h-3.0zM295.4 314.9h3.0v3.0h-3.0zM306.4 298.9h3.0v3.0h-3.0zM293.0 320.9h3.0v3.0h-3.0zM303.9 313.4h3.0v3.0h-3.0zM292.0 324.4h3.0v3.0h-3.0zM291.2 310.4h3.0v3.0h-3.0zM288.6 298.8h3.0v3.0h-3.0zM290.8 312.3h3.0v3.0h-3.0zM291.0 306.4h3.0v3.0h-3.0zM300.5 303.9h3.0v3.0h-3.0zM300.1 302.5h3.0v3.0h-3.0zM292.6 304.7h3.0v3.0h-3.0zM286.9 318.7h3.0v3.0h-3.0zM295.5 301.6h3.0v3.0h-3.0zM289.7 307.8h3.0v3.0h-3.0zM279.8 295.9h3.0v3.0h-3.0zM295.3 303.0h3.0v3.0h-3.0zM294.9 313.5h3.0v3.0h-3.0zM305.7 301.1h3.0v3.0h-3.0zM283.9 311.4h3.0v3.0h-3.0zM288.0 303.1h3.0v3.0h-3.0zM309.0 329.3h3.0v3.0h-3.0zM281.0 311.0h3.0v3.0h-3.0zM290.9 315.0h3.0v3.0h-3.0zM294.6 299.5h3.0v3.0h-3.0zM299.6 307.4h3.0v3.0h-3.0zM278.1 324.4h3.0v3.0h-3.0zM303.5 320.5h3.0v3.0h-3.0zM304.2 309.6h3.0v3.0h-3.0zM298.0 311.2h3.0v3.0h-3.0zM291.4 310.3h3.0v3.0h-3.0zM290.2 304.2h3.0v3.0h-3.0zM283.2 304.7h3.0v3.0h-3.0zM296.6 306.5h3.0v3.0h-3.0zM286.2 319.7h3.0v3.0h-3.0zM283.3 305.1h3.0v3.0h-3.0zM285.6 299.3h3.0v3.0h-3.0zM302.8 316.1h3.0v3.0h-3.0zM276.3 302.7h3.0v3.0h-3.0zM300.0 313.5h3.0v3.0h-3.0zM279.5 300.4h3.0v3.0h-3.0zM290.3 298.0h3.0v3.0h-3.0zM289.9 303.0h3.0v3.0h-3.0zM290.2 303.7h3.0v3.0h-3.0zM298.3 305.9h3.0v3.0h-3.0zM299.0 316.9h3.0v3.0h-3.0zM279.6 300.3h3.0v3.0h-3.0zM283.4 320.8h3.0v3.0h-3.0zM285.1 319.9h3.0v3.0h-3.0zM297.5 302.1h3.0v3.0h-3.0zM280.7 318.2h3.0v3.0h-3.0zM299.1 305.8h3.0v3.0h-3.0zM294.8 321.9h3.0v3.0h-3.0zM310.8 316.9h3.0v3.0h-3.0zM289.5 307.3h3.0v3.0h-3.0zM282.7 295.7h3.0v3.0h-3.0zM283.7 300.6h3.0v3.0h-3.0zM277.0 320.7h3.0v3.0h-3.0zM280.9 317.5h3.0v3.0h-3.0zM307.4 311.1h3.0v3.0h-3.0zM277.7 310.5h3.0v3.0h-3.0zM293.1 297.8h3.0v3.0h-3.0zM297.2 308.8h3.0v3.0h-3.0zM293.1 314.3h3.0v3.0h-3.0zM302.5 306.3h3.0v3.0h-3.0zM280.3 303.4h3.0v3.0h-3.0zM297.4 302.9h3.0v3.0h-3.0zM283.2 300.5h3.0v3.0h-3.0zM276.5 299.2h3.0v3.0h-3.0zM288.0 317.7h3.0v3.0h-3.0zM297.5 308.1h3.0v3.0h-3.0zM287.5 320.5h3.0v3.0h-3.0zM282.8 303.3h3.0v3.0h-3.0zM284.2 308.2h3.0v3.0h-3.0zM300.8 319.3h3.0v3.0h-3.0zM290.6 307.0h3.0v3.0h-3.0zM292.0 312.3h3.0v3.0h-3.0zM293.3 319.0h3.0v3.0h-3.0zM285.1 316.7h3.0v3.0h-3.0zM297.8 327.5h3.0v3.0h-3.0zM281.2 319.2h3.0v3.0h-3.0zM289.4 302.7h3.0v3.0h-3.0zM286.2 307.7h3.0v3.0h-3.0zM299.3 314.1h3.0v3.0h-3.0zM292.4 299.5h3.0v3.0h-3.0zM328.6 317.9h3.0v3.0h-3.0zM332.4 321.2h3.0v3.0h-3.0zM306.6 300.5h3.0v3.0h-3.0zM312.6 304.6h3.0v3.0h-3.0zM319.1 316.8h3.0v3.0h-3.0zM328.6 307.7h3.0v3.0h-3.0zM317.4 308.5h3.0v3.0h-3.0zM316.5 315.6h3.0v3.0h-3.0zM330.3 309.8h3.0v3.0h-3.0zM316.3 306.8h3.0v3.0h-3.0zM309.5 314.1h3.0v3.0h-3.0zM314.3 323.2h3.0v3.0h-3.0zM307.4 296.9h3.0v3.0h-3.0zM326.3 307.0h3.0v3.0h-3.0zM324.2 312.1h3.0v3.0h-3.0zM307.8 318.9h3.0v3.0h-3.0zM317.2 320.5h3.0v3.0h-3.0zM325.7 321.3h3.0v3.0h-3.0zM345.2 316.1h3.0v3.0h-3.0zM329.6 324.2h3.0v3.0h-3.0zM345.9 320.3h3.0v3.0h-3.0zM328.9 312.4h3.0v3.0h-3.0zM373.7 324.1h3.0v3.0h-3.0zM374.6 321.2h3.0v3.0h-3.0zM399.3 304.3h3.0v3.0h-3.0zM391.5 316.9h3.0v3.0h-3.0zM388.3 301.4h3.0v3.0h-3.0zM404.3 325.3h3.0v3.0h-3.0zM382.2 305.5h3.0v3.0h-3.0zM388.0 321.1h3.0v3.0h-3.0zM382.1 314.9h3.0v3.0h-3.0zM405.9 303.1h3.0v3.0h-3.0zM434.4 303.8h3.0v3.0h-3.0zM419.3 308.5h3.0v3.0h-3.0zM419.5 307.1h3.0v3.0h-3.0zM414.8 322.7h3.0v3.0h-3.0zM413.4 314.8h3.0v3.0h-3.0zM414.8 319.4h3.0v3.0h-3.0zM396.0 311.6h3.0v3.0h-3.0zM416.2 303.5h3.0v3.0h-3.0zM412.2 324.4h3.0v3.0h-3.0zM404.6 316.4h3.0v3.0h-3.0zM437.2 316.9h3.0v3.0h-3.0zM447.5 303.4h3.0v3.0h-3.0zM435.8 321.7h3.0v3.0h-3.0zM432.7 307.1h3.0v3.0h-3.0zM440.6 317.8h3.0v3.0h-3.0zM431.4 307.6h3.0v3.0h-3.0zM435.2 321.4h3.0v3.0h-3.0zM450.5 298.4h3.0v3.0h-3.0zM449.3 319.4h3.0v3.0h-3.0zM454.5 306.8h3.0v3.0h-3.0zM450.2 305.1h3.0v3.0h-3.0zM451.4 321.6h3.0v3.0h-3.0zM431.7 295.6h3.0v3.0h-3.0zM447.2 314.9h3.0v3.0h-3.0zM433.1 304.4h3.0v3.0h-3.0zM448.9 305.6h3.0v3.0h-3.0zM431.0 307.6h3.0v3.0h-3.0zM440.0 303.9h3.0v3.0h-3.0zM467.5 309.8h3.0v3.0h-3.0zM478.7 322.2h3.0v3.0h-3.0zM462.7 302.5h3.0v3.0h-3.0zM466.2 317.0h3.0v3.0h-3.0zM456.9 303.3h3.0v3.0h-3.0zM476.7 322.5h3.0v3.0h-3.0zM464.3 309.0h3.0v3.0h-3.0zM458.4 317.7h3.0v3.0h-3.0zM458.8 297.4h3.0v3.0h-3.0zM466.0 303.2h3.0v3.0h-3.0zM476.5 302.0h3.0v3.0h-3.0zM466.3 325.9h3.0v3.0h-3.0zM462.5 315.4h3.0v3.0h-3.0zM462.5 312.6h3.0v3.0h-3.0zM463.8 311.6h3.0v3.0h-3.0zM483.4 304.7h3.0v3.0h-3.0zM181.6 339.5h3.0v3.0h-3.0zM169.8 326.2h3.0v3.0h-3.0zM186.6 340.0h3.0v3.0h-3.0zM200.2 330.6h3.0v3.0h-3.0zM171.7 333.5h3.0v3.0h-3.0zM177.2 342.9h3.0v3.0h-3.0zM217.0 327.9h3.0v3.0h-3.0zM209.8 336.7h3.0v3.0h-3.0zM226.8 342.9h3.0v3.0h-3.0zM209.2 326.9h3.0v3.0h-3.0zM213.6 343.5h3.0v3.0h-3.0zM214.7 328.3h3.0v3.0h-3.0zM210.7 341.8h3.0v3.0h-3.0zM217.9 351.1h3.0v3.0h-3.0zM221.6 342.3h3.0v3.0h-3.0zM224.8 336.5h3.0v3.0h-3.0zM213.6 339.0h3.0v3.0h-3.0zM226.4 334.8h3.0v3.0h-3.0zM212.1 325.3h3.0v3.0h-3.0zM215.8 329.1h3.0v3.0h-3.0zM246.8 330.7h3.0v3.0h-3.0zM248.7 330.5h3.0v3.0h-3.0zM247.3 332.8h3.0v3.0h-3.0zM244.1 346.1h3.0v3.0h-3.0zM236.9 345.1h3.0v3.0h-3.0zM235.0 332.1h3.0v3.0h-3.0zM250.4 345.3h3.0v3.0h-3.0zM253.3 327.6h3.0v3.0h-3.0zM257.4 343.0h3.0v3.0h-3.0zM233.9 333.0h3.0v3.0h-3.0zM247.3 337.5h3.0v3.0h-3.0zM233.4 345.0h3.0v3.0h-3.0zM235.1 338.3h3.0v3.0h-3.0zM243.8 340.4h3.0v3.0h-3.0zM243.4 322.6h3.0v3.0h-3.0zM258.2 338.5h3.0v3.0h-3.0zM255.4 344.0h3.0v3.0h-3.0zM246.0 335.1h3.0v3.0h-3.0zM239.6 341.1h3.0v3.0h-3.0zM241.0 349.8h3.0v3.0h-3.0zM242.2 343.1h3.0v3.0h-3.0zM245.6 316.2h3.0v3.0h-3.0zM238.9 342.3h3.0v3.0h-3.0zM255.0 324.9h3.0v3.0h-3.0zM236.5 332.9h3.0v3.0h-3.0zM242.0 339.0h3.0v3.0h-3.0zM244.4 339.5h3.0v3.0h-3.0zM241.2 340.4h3.0v3.0h-3.0zM239.9 346.7h3.0v3.0h-3.0zM236.4 332.9h3.0v3.0h-3.0zM245.9 335.3h3.0v3.0h-3.0zM231.5 344.1h3.0v3.0h-3.0zM237.3 325.5h3.0v3.0h-3.0zM250.1 330.2h3.0v3.0h-3.0zM234.1 341.2h3.0v3.0h-3.0zM242.1 340.9h3.0v3.0h-3.0zM218.4 324.8h3.0v3.0h-3.0zM258.0 343.8h3.0v3.0h-3.0zM243.4 330.8h3.0v3.0h-3.0zM236.2 331.7h3.0v3.0h-3.0zM228.4 352.0h3.0v3.0h-3.0zM244.6 322.1h3.0v3.0h-3.0zM234.0 338.0h3.0v3.0h-3.0zM256.2 346.6h3.0v3.0h-3.0zM246.1 327.6h3.0v3.0h-3.0zM255.5 327.3h3.0v3.0h-3.0zM238.0 318.4h3.0v3.0h-3.0zM245.0 333.8h3.0v3.0h-3.0zM240.9 336.3h3.0v3.0h-3.0zM233.5 324.1h3.0v3.0h-3.0zM238.8 325.0h3.0v3.0h-3.0zM237.2 342.1h3.0v3.0h-3.0zM234.6 325.1h3.0v3.0h-3.0zM248.1 325.4h3.0v3.0h-3.0zM245.4 324.5h3.0v3.0h-3.0zM247.5 347.1h3.0v3.0h-3.0zM249.7 337.3h3.0v3.0h-3.0zM254.2 338.2h3.0v3.0h-3.0zM243.4 320.2h3.0v3.0h-3.0zM228.6 335.7h3.0v3.0h-3.0zM241.2 331.3h3.0v3.0h-3.0zM234.2 324.6h3.0v3.0h-3.0zM237.1 331.0h3.0v3.0h-3.0zM222.9 325.7h3.0v3.0h-3.0zM246.2 332.9h3.0v3.0h-3.0zM246.1 335.2h3.0v3.0h-3.0zM233.1 322.9h3.0v3.0h-3.0zM237.3 328.0h3.0v3.0h-3.0zM260.4 338.7h3.0v3.0h-3.0zM253.7 336.9h3.0v3.0h-3.0zM250.6 346.1h3.0v3.0h-3.0zM239.5 340.5h3.0v3.0h-3.0zM238.6 320.5h3.0v3.0h-3.0zM236.4 325.0h3.0v3.0h-3.0zM230.7 334.0h3.0v3.0h-3.0zM246.1 352.0h3.0v3.0h-3.0zM233.3 326.3h3.0v3.0h-3.0zM252.3 336.4h3.0v3.0h-3.0zM256.0 345.3h3.0v3.0h-3.0zM239.0 339.1h3.0v3.0h-3.0zM244.9 339.3h3.0v3.0h-3.0zM246.8 336.9h3.0v3.0h-3.0zM247.1 345.1h3.0v3.0h-3.0zM248.0 325.6h3.0v3.0h-3.0zM247.8 331.4h3.0v3.0h-3.0zM253.9 318.1h3.0v3.0h-3.0zM260.9 328.8h3.0v3.0h-3.0zM273.2 329.7h3.0v3.0h-3.0zM267.4 322.2h3.0v3.0h-3.0zM261.7 342.2h3.0v3.0h-3.0zM262.5 343.7h3.0v3.0h-3.0zM273.1 327.0h3.0v3.0h-3.0zM250.2 336.4h3.0v3.0h-3.0zM272.4 329.4h3.0v3.0h-3.0zM274.0 340.8h3.0v3.0h-3.0zM269.5 351.8h3.0v3.0h-3.0zM272.1 342.6h3.0v3.0h-3.0zM267.7 322.6h3.0v3.0h-3.0zM268.9 338.7h3.0v3.0h-3.0zM282.7 327.9h3.0v3.0h-3.0zM258.2 341.6h3.0v3.0h-3.0zM275.9 340.2h3.0v3.0h-3.0zM261.0 330.4h3.0v3.0h-3.0zM261.5 335.0h3.0v3.0h-3.0zM257.4 345.1h3.0v3.0h-3.0zM286.2 343.6h3.0v3.0h-3.0zM259.1 328.7h3.0v3.0h-3.0zM268.6 353.4h3.0v3.0h-3.0zM277.6 340.5h3.0v3.0h-3.0zM260.7 334.9h3.0v3.0h-3.0zM266.9 342.6h3.0v3.0h-3.0zM279.6 323.0h3.0v3.0h-3.0zM253.8 336.9h3.0v3.0h-3.0zM255.0 349.9h3.0v3.0h-3.0zM273.8 339.3h3.0v3.0h-3.0zM277.9 321.7h3.0v3.0h-3.0zM272.9 342.7h3.0v3.0h-3.0zM275.4 321.8h3.0v3.0h-3.0zM252.6 333.0h3.0v3.0h-3.0zM277.2 331.8h3.0v3.0h-3.0zM265.8 350.2h3.0v3.0h-3.0zM270.1 342.8h3.0v3.0h-3.0zM262.6 327.4h3.0v3.0h-3.0zM271.4 326.8h3.0v3.0h-3.0zM269.4 327.8h3.0v3.0h-3.0zM267.1 347.7h3.0v3.0h-3.0zM255.6 336.6h3.0v3.0h-3.0zM260.4 333.4h3.0v3.0h-3.0zM271.6 324.6h3.0v3.0h-3.0zM282.3 326.5h3.0v3.0h-3.0zM278.0 336.9h3.0v3.0h-3.0zM286.1 337.9h3.0v3.0h-3.0zM261.1 327.0h3.0v3.0h-3.0zM276.3 341.3h3.0v3.0h-3.0zM270.3 336.2h3.0v3.0h-3.0zM270.4 339.3h3.0v3.0h-3.0zM281.8 327.3h3.0v3.0h-3.0zM262.8 333.5h3.0v3.0h-3.0zM261.5 333.4h3.0v3.0h-3.0zM263.3 329.8h3.0v3.0h-3.0zM268.8 326.6h3.0v3.0h-3.0zM278.6 342.7h3.0v3.0h-3.0zM269.8 343.4h3.0v3.0h-3.0zM270.2 330.6h3.0v3.0h-3.0zM273.3 339.4h3.0v3.0h-3.0zM278.0 333.1h3.0v3.0h-3.0zM266.3 345.2h3.0v3.0h-3.0zM264.1 337.6h3.0v3.0h-3.0zM256.0 348.0h3.0v3.0h-3.0zM260.3 339.5h3.0v3.0h-3.0zM249.7 332.5h3.0v3.0h-3.0zM275.8 345.0h3.0v3.0h-3.0zM256.7 325.8h3.0v3.0h-3.0zM268.9 342.9h3.0v3.0h-3.0zM263.6 332.9h3.0v3.0h-3.0zM265.9 338.9h3.0v3.0h-3.0zM271.3 340.2h3.0v3.0h-3.0zM270.3 328.2h3.0v3.0h-3.0zM273.0 329.3h3.0v3.0h-3.0zM276.6 344.6h3.0v3.0h-3.0zM262.6 348.2h3.0v3.0h-3.0zM270.0 332.9h3.0v3.0h-3.0zM262.6 328.2h3.0v3.0h-3.0zM267.0 344.6h3.0v3.0h-3.0zM268.4 350.3h3.0v3.0h-3.0zM249.0 342.7h3.0v3.0h-3.0zM264.7 335.0h3.0v3.0h-3.0zM273.6 341.6h3.0v3.0h-3.0zM271.2 339.0h3.0v3.0h-3.0zM266.3 326.8h3.0v3.0h-3.0zM268.7 333.1h3.0v3.0h-3.0zM260.2 329.4h3.0v3.0h-3.0zM279.0 331.2h3.0v3.0h-3.0zM269.0 327.1h3.0v3.0h-3.0zM257.8 353.7h3.0v3.0h-3.0zM266.3 341.0h3.0v3.0h-3.0zM273.1 325.6h3.0v3.0h-3.0zM255.5 331.0h3.0v3.0h-3.0zM259.2 316.9h3.0v3.0h-3.0zM270.7 331.7h3.0v3.0h-3.0zM260.0 329.4h3.0v3.0h-3.0zM264.2 348.1h3.0v3.0h-3.0zM264.2 335.2h3.0v3.0h-3.0zM263.3 330.1h3.0v3.0h-3.0zM266.2 350.4h3.0v3.0h-3.0zM255.9 330.6h3.0v3.0h-3.0zM264.8 340.1h3.0v3.0h-3.0zM271.0 329.8h3.0v3.0h-3.0zM264.6 319.1h3.0v3.0h-3.0zM262.1 343.4h3.0v3.0h-3.0zM264.9 326.5h3.0v3.0h-3.0zM279.1 329.2h3.0v3.0h-3.0zM253.7 335.2h3.0v3.0h-3.0zM255.6 341.5h3.0v3.0h-3.0zM255.4 332.2h3.0v3.0h-3.0zM263.0 326.6h3.0v3.0h-3.0zM269.3 353.3h3.0v3.0h-3.0zM279.8 325.8h3.0v3.0h-3.0zM262.7 349.1h3.0v3.0h-3.0zM282.0 346.0h3.0v3.0h-3.0zM266.6 343.0h3.0v3.0h-3.0zM279.5 343.2h3.0v3.0h-3.0zM259.2 324.6h3.0v3.0h-3.0zM270.2 345.6h3.0v3.0h-3.0zM268.5 330.9h3.0v3.0h-3.0zM261.2 353.6h3.0v3.0h-3.0zM252.4 340.8h3.0v3.0h-3.0zM259.2 317.5h3.0v3.0h-3.0zM275.3 338.5h3.0v3.0h-3.0zM251.9 330.9h3.0v3.0h-3.0zM257.4 340.1h3.0v3.0h-3.0zM254.0 331.3h3.0v3.0h-3.0zM255.2 349.7h3.0v3.0h-3.0zM262.3 327.8h3.0v3.0h-3.0zM256.5 335.5h3.0v3.0h-3.0zM274.4 348.5h3.0v3.0h-3.0zM272.9 340.5h3.0v3.0h-3.0zM257.0 346.8h3.0v3.0h-3.0zM267.2 336.9h3.0v3.0h-3.0zM256.2 335.6h3.0v3.0h-3.0zM270.9 337.4h3.0v3.0h-3.0zM274.8 324.5h3.0v3.0h-3.0zM261.8 324.7h3.0v3.0h-3.0zM271.1 347.9h3.0v3.0h-3.0zM256.9 330.6h3.0v3.0h-3.0zM250.8 325.2h3.0v3.0h-3.0zM279.3 324.9h3.0v3.0h-3.0zM269.5 335.8h3.0v3.0h-3.0zM257.5 332.3h3.0v3.0h-3.0zM279.6 337.1h3.0v3.0h-3.0zM256.9 333.4h3.0v3.0h-3.0zM273.7 337.7h3.0v3.0h-3.0zM265.3 341.8h3.0v3.0h-3.0zM274.0 333.9h3.0v3.0h-3.0zM265.9 343.9h3.0v3.0h-3.0zM268.9 322.9h3.0v3.0h-3.0zM267.1 344.5h3.0v3.0h-3.0zM266.4 332.0h3.0v3.0h-3.0zM279.0 345.2h3.0v3.0h-3.0zM271.3 346.3h3.0v3.0h-3.0zM266.1 328.4h3.0v3.0h-3.0zM254.7 343.5h3.0v3.0h-3.0zM256.8 348.2h3.0v3.0h-3.0zM272.1 345.3h3.0v3.0h-3.0zM263.6 342.7h3.0v3.0h-3.0zM261.9 345.2h3.0v3.0h-3.0zM274.2 342.8h3.0v3.0h-3.0zM265.6 333.6h3.0v3.0h-3.0zM255.9 345.4h3.0v3.0h-3.0zM261.9 330.3h3.0v3.0h-3.0zM259.0 350.4h3.0v3.0h-3.0zM257.4 328.2h3.0v3.0h-3.0zM282.1 340.5h3.0v3.0h-3.0zM273.3 352.2h3.0v3.0h-3.0zM276.9 340.1h3.0v3.0h-3.0zM259.0 337.2h3.0v3.0h-3.0zM259.2 343.5h3.0v3.0h-3.0zM281.8 334.4h3.0v3.0h-3.0zM271.4 334.8h3.0v3.0h-3.0zM283.9 329.9h3.0v3.0h-3.0zM283.2 339.3h3.0v3.0h-3.0zM277.2 334.7h3.0v3.0h-3.0zM262.7 325.5h3.0v3.0h-3.0zM272.9 330.5h3.0v3.0h-3.0zM256.0 345.6h3.0v3.0h-3.0zM278.3 341.0h3.0v3.0h-3.0zM268.7 338.3h3.0v3.0h-3.0zM266.5 337.4h3.0v3.0h-3.0zM266.0 325.2h3.0v3.0h-3.0zM256.9 331.5h3.0v3.0h-3.0zM275.5 350.0h3.0v3.0h-3.0zM259.9 330.7h3.0v3.0h-3.0zM263.5 341.8h3.0v3.0h-3.0zM275.7 322.4h3.0v3.0h-3.0zM264.1 341.1h3.0v3.0h-3.0zM268.2 327.6h3.0v3.0h-3.0zM263.4 340.5h3.0v3.0h-3.0zM261.6 346.7h3.0v3.0h-3.0zM275.4 325.2h3.0v3.0h-3.0zM272.4 331.1h3.0v3.0h-3.0zM272.9 329.7h3.0v3.0h-3.0zM257.1 334.6h3.0v3.0h-3.0zM277.4 345.5h3.0v3.0h-3.0zM260.6 327.9h3.0v3.0h-3.0zM279.3 338.5h3.0v3.0h-3.0zM256.6 325.1h3.0v3.0h-3.0zM275.7 332.9h3.0v3.0h-3.0zM262.5 325.2h3.0v3.0h-3.0zM299.2 335.5h3.0v3.0h-3.0zM279.9 343.5h3.0v3.0h-3.0zM290.4 348.7h3.0v3.0h-3.0zM285.3 332.2h3.0v3.0h-3.0zM299.1 331.4h3.0v3.0h-3.0zM296.6 331.9h3.0v3.0h-3.0zM286.5 325.9h3.0v3.0h-3.0zM281.8 349.1h3.0v3.0h-3.0zM298.0 334.8h3.0v3.0h-3.0zM281.6 340.0h3.0v3.0h-3.0zM296.2 332.4h3.0v3.0h-3.0zM285.8 347.4h3.0v3.0h-3.0zM299.5 338.2h3.0v3.0h-3.0zM300.4 330.8h3.0v3.0h-3.0zM300.6 339.2h3.0v3.0h-3.0zM307.4 328.2h3.0v3.0h-3.0zM291.6 353.7h3.0v3.0h-3.0zM282.5 329.3h3.0v3.0h-3.0zM294.2 340.7h3.0v3.0h-3.0zM292.3 326.2h3.0v3.0h-3.0zM287.9 330.9h3.0v3.0h-3.0zM281.8 329.5h3.0v3.0h-3.0zM282.7 345.3h3.0v3.0h-3.0zM292.6 344.3h3.0v3.0h-3.0zM294.8 334.0h3.0v3.0h-3.0zM289.2 335.8h3.0v3.0h-3.0zM290.9 351.9h3.0v3.0h-3.0zM298.1 345.0h3.0v3.0h-3.0zM285.5 325.3h3.0v3.0h-3.0zM288.4 344.3h3.0v3.0h-3.0zM301.5 331.2h3.0v3.0h-3.0zM288.3 326.6h3.0v3.0h-3.0zM309.3 320.8h3.0v3.0h-3.0zM289.4 330.4h3.0v3.0h-3.0zM298.0 329.5h3.0v3.0h-3.0zM301.3 354.7h3.0v3.0h-3.0zM283.2 335.0h3.0v3.0h-3.0zM283.5 346.4h3.0v3.0h-3.0zM292.7 350.6h3.0v3.0h-3.0zM288.5 327.3h3.0v3.0h-3.0zM291.4 335.7h3.0v3.0h-3.0zM286.9 340.4h3.0v3.0h-3.0zM300.3 336.0h3.0v3.0h-3.0zM285.5 343.2h3.0v3.0h-3.0zM297.2 332.3h3.0v3.0h-3.0zM299.9 344.7h3.0v3.0h-3.0zM295.3 331.3h3.0v3.0h-3.0zM297.4 330.4h3.0v3.0h-3.0zM298.0 330.0h3.0v3.0h-3.0zM298.5 335.3h3.0v3.0h-3.0zM294.4 345.8h3.0v3.0h-3.0zM305.9 345.2h3.0v3.0h-3.0zM282.4 333.5h3.0v3.0h-3.0zM293.5 333.4h3.0v3.0h-3.0zM304.0 339.3h3.0v3.0h-3.0zM294.8 318.6h3.0v3.0h-3.0zM293.4 339.4h3.0v3.0h-3.0zM286.0 331.5h3.0v3.0h-3.0zM301.3 340.8h3.0v3.0h-3.0zM288.7 344.0h3.0v3.0h-3.0zM301.3 329.5h3.0v3.0h-3.0zM299.3 333.4h3.0v3.0h-3.0zM306.0 349.4h3.0v3.0h-3.0zM288.0 315.6h3.0v3.0h-3.0zM288.8 322.4h3.0v3.0h-3.0zM289.9 327.2h3.0v3.0h-3.0zM291.6 323.2h3.0v3.0h-3.0zM298.4 323.2h3.0v3.0h-3.0zM299.7 350.0h3.0v3.0h-3.0zM281.7 331.2h3.0v3.0h-3.0zM305.6 330.1h3.0v3.0h-3.0zM295.8 346.9h3.0v3.0h-3.0zM304.4 342.0h3.0v3.0h-3.0zM301.7 323.7h3.0v3.0h-3.0zM291.9 332.8h3.0v3.0h-3.0zM289.2 342.0h3.0v3.0h-3.0zM300.3 337.7h3.0v3.0h-3.0zM299.8 325.8h3.0v3.0h-3.0zM305.2 347.0h3.0v3.0h-3.0zM293.8 323.6h3.0v3.0h-3.0zM288.8 353.6h3.0v3.0h-3.0zM289.8 352.5h3.0v3.0h-3.0zM283.8 319.8h3.0v3.0h-3.0zM294.7 322.0h3.0v3.0h-3.0zM284.3 326.7h3.0v3.0h-3.0zM294.4 327.3h3.0v3.0h-3.0zM285.9 344.3h3.0v3.0h-3.0zM297.9 333.4h3.0v3.0h-3.0zM297.1 352.7h3.0v3.0h-3.0zM279.5 346.1h3.0v3.0h-3.0zM274.1 341.4h3.0v3.0h-3.0zM289.8 344.6h3.0v3.0h-3.0zM289.9 329.6h3.0v3.0h-3.0zM293.8 332.2h3.0v3.0h-3.0zM304.5 339.9h3.0v3.0h-3.0zM284.4 323.5h3.0v3.0h-3.0zM291.2 346.5h3.0v3.0h-3.0zM298.5 337.1h3.0v3.0h-3.0zM294.0 336.6h3.0v3.0h-3.0zM290.9 348.7h3.0v3.0h-3.0zM282.6 346.8h3.0v3.0h-3.0zM298.1 341.3h3.0v3.0h-3.0zM281.9 331.9h3.0v3.0h-3.0zM288.7 345.7h3.0v3.0h-3.0zM292.5 338.6h3.0v3.0h-3.0zM286.6 335.1h3.0v3.0h-3.0zM301.9 331.0h3.0v3.0h-3.0zM300.2 331.2h3.0v3.0h-3.0zM286.9 327.2h3.0v3.0h-3.0zM286.2 342.3h3.0v3.0h-3.0zM295.8 334.8h3.0v3.0h-3.0zM290.6 344.2h3.0v3.0h-3.0zM284.1 325.4h3.0v3.0h-3.0zM298.0 344.8h3.0v3.0h-3.0zM294.0 328.9h3.0v3.0h-3.0zM302.0 324.2h3.0v3.0h-3.0zM294.2 353.4h3.0v3.0h-3.0zM281.8 328.7h3.0v3.0h-3.0zM292.2 342.1h3.0v3.0h-3.0zM286.5 332.8h3.0v3.0h-3.0zM279.2 329.2h3.0v3.0h-3.0zM291.8 325.2h3.0v3.0h-3.0zM284.5 323.9h3.0v3.0h-3.0zM295.4 325.1h3.0v3.0h-3.0zM283.4 334.4h3.0v3.0h-3.0zM300.0 342.2h3.0v3.0h-3.0zM283.9 323.2h3.0v3.0h-3.0zM281.3 350.6h3.0v3.0h-3.0zM291.9 346.5h3.0v3.0h-3.0zM288.5 335.7h3.0v3.0h-3.0zM281.2 340.5h3.0v3.0h-3.0zM289.4 334.8h3.0v3.0h-3.0zM295.8 334.2h3.0v3.0h-3.0zM297.9 331.7h3.0v3.0h-3.0zM301.8 325.6h3.0v3.0h-3.0zM289.3 323.7h3.0v3.0h-3.0zM277.9 325.7h3.0v3.0h-3.0zM298.8 336.8h3.0v3.0h-3.0zM284.7 331.0h3.0v3.0h-3.0zM298.2 335.7h3.0v3.0h-3.0zM287.1 340.1h3.0v3.0h-3.0zM282.4 347.1h3.0v3.0h-3.0zM285.2 322.9h3.0v3.0h-3.0zM286.9 331.0h3.0v3.0h-3.0zM288.4 329.3h3.0v3.0h-3.0zM299.6 352.8h3.0v3.0h-3.0zM302.0 331.6h3.0v3.0h-3.0zM280.9 332.0h3.0v3.0h-3.0zM283.8 348.2h3.0v3.0h-3.0zM290.2 324.2h3.0v3.0h-3.0zM287.7 329.7h3.0v3.0h-3.0zM299.9 350.8h3.0v3.0h-3.0zM322.9 331.8h3.0v3.0h-3.0zM315.0 329.4h3.0v3.0h-3.0zM324.9 342.4h3.0v3.0h-3.0zM307.5 329.8h3.0v3.0h-3.0zM308.2 339.6h3.0v3.0h-3.0zM327.0 319.0h3.0v3.0h-3.0zM314.1 333.0h3.0v3.0h-3.0zM324.5 340.3h3.0v3.0h-3.0zM314.7 336.2h3.0v3.0h-3.0zM305.8 329.0h3.0v3.0h-3.0zM303.6 329.3h3.0v3.0h-3.0zM317.8 345.0h3.0v3.0h-3.0zM299.3 329.1h3.0v3.0h-3.0zM319.4 339.7h3.0v3.0h-3.0zM304.6 330.7h3.0v3.0h-3.0zM315.2 347.4h3.0v3.0h-3.0zM303.9 339.3h3.0v3.0h-3.0zM304.7 331.7h3.0v3.0h-3.0zM320.1 318.3h3.0v3.0h-3.0zM316.1 329.5h3.0v3.0h-3.0zM342.6 338.0h3.0v3.0h-3.0zM351.6 326.1h3.0v3.0h-3.0zM346.6 347.7h3.0v3.0h-3.0zM338.3 326.8h3.0v3.0h-3.0zM349.4 336.2h3.0v3.0h-3.0zM369.9 334.6h3.0v3.0h-3.0zM383.0 320.6h3.0v3.0h-3.0zM377.8 340.6h3.0v3.0h-3.0zM402.9 348.7h3.0v3.0h-3.0zM401.0 343.4h3.0v3.0h-3.0zM394.2 337.1h3.0v3.0h-3.0zM393.2 344.3h3.0v3.0h-3.0zM388.6 327.9h3.0v3.0h-3.0zM393.0 349.0h3.0v3.0h-3.0zM428.0 338.7h3.0v3.0h-3.0zM410.9 327.9h3.0v3.0h-3.0zM412.6 334.4h3.0v3.0h-3.0zM425.5 344.9h3.0v3.0h-3.0zM416.5 346.5h3.0v3.0h-3.0zM425.1 326.8h3.0v3.0h-3.0zM423.8 341.9h3.0v3.0h-3.0zM404.5 333.8h3.0v3.0h-3.0zM445.4 340.2h3.0v3.0h-3.0zM438.4 325.1h3.0v3.0h-3.0zM440.7 338.0h3.0v3.0h-3.0zM444.1 341.6h3.0v3.0h-3.0zM456.3 329.7h3.0v3.0h-3.0zM447.3 352.5h3.0v3.0h-3.0zM450.1 331.9h3.0v3.0h-3.0zM438.7 323.4h3.0v3.0h-3.0zM440.8 333.1h3.0v3.0h-3.0zM446.4 329.7h3.0v3.0h-3.0zM452.1 341.5h3.0v3.0h-3.0zM476.6 329.0h3.0v3.0h-3.0zM459.8 347.8h3.0v3.0h-3.0zM465.5 327.0h3.0v3.0h-3.0zM473.3 328.7h3.0v3.0h-3.0zM471.4 345.8h3.0v3.0h-3.0zM470.3 335.1h3.0v3.0h-3.0zM461.0 335.2h3.0v3.0h-3.0zM460.5 341.4h3.0v3.0h-3.0zM484.5 337.5h3.0v3.0h-3.0zM452.3 327.3h3.0v3.0h-3.0zM502.2 323.9h3.0v3.0h-3.0zM173.2 353.3h3.0v3.0h-3.0zM180.6 349.4h3.0v3.0h-3.0zM188.7 367.7h3.0v3.0h-3.0zM205.9 358.8h3.0v3.0h-3.0zM199.5 356.5h3.0v3.0h-3.0zM226.9 364.7h3.0v3.0h-3.0zM207.4 352.7h3.0v3.0h-3.0zM230.4 350.1h3.0v3.0h-3.0zM223.3 362.9h3.0v3.0h-3.0zM203.4 353.0h3.0v3.0h-3.0zM207.8 365.2h3.0v3.0h-3.0zM223.9 368.5h3.0v3.0h-3.0zM219.3 366.0h3.0v3.0h-3.0zM210.1 362.8h3.0v3.0h-3.0zM215.6 349.1h3.0v3.0h-3.0zM208.8 368.4h3.0v3.0h-3.0zM220.5 353.5h3.0v3.0h-3.0zM213.7 370.4h3.0v3.0h-3.0zM210.7 349.3h3.0v3.0h-3.0zM222.0 358.7h3.0v3.0h-3.0zM224.2 372.0h3.0v3.0h-3.0zM220.1 366.6h3.0v3.0h-3.0zM216.4 357.2h3.0v3.0h-3.0zM253.9 348.7h3.0v3.0h-3.0zM255.0 360.5h3.0v3.0h-3.0zM228.1 362.2h3.0v3.0h-3.0zM258.5 348.2h3.0v3.0h-3.0zM239.3 367.7h3.0v3.0h-3.0zM241.2 363.8h3.0v3.0h-3.0zM247.5 350.6h3.0v3.0h-3.0zM235.4 355.6h3.0v3.0h-3.0zM241.5 354.6h3.0v3.0h-3.0zM229.9 364.6h3.0v3.0h-3.0zM241.7 368.7h3.0v3.0h-3.0zM233.4 354.9h3.0v3.0h-3.0zM239.9 363.5h3.0v3.0h-3.0zM237.7 370.0h3.0v3.0h-3.0zM247.0 369.8h3.0v3.0h-3.0zM226.6 372.0h3.0v3.0h-3.0zM235.6 357.0h3.0v3.0h-3.0zM250.8 366.3h3.0v3.0h-3.0zM254.3 348.1h3.0v3.0h-3.0zM229.6 362.6h3.0v3.0h-3.0zM248.3 363.8h3.0v3.0h-3.0zM248.9 347.1h3.0v3.0h-3.0zM227.8 367.4h3.0v3.0h-3.0zM228.6 356.3h3.0v3.0h-3.0zM230.3 359.4h3.0v3.0h-3.0zM229.8 373.3h3.0v3.0h-3.0zM252.6 360.3h3.0v3.0h-3.0zM244.7 369.8h3.0v3.0h-3.0zM243.5 363.7h3.0v3.0h-3.0zM237.2 355.8h3.0v3.0h-3.0zM231.5 352.1h3.0v3.0h-3.0zM235.3 373.9h3.0v3.0h-3.0zM230.8 363.5h3.0v3.0h-3.0zM228.2 360.9h3.0v3.0h-3.0zM232.5 364.7h3.0v3.0h-3.0zM238.2 372.3h3.0v3.0h-3.0zM245.4 358.4h3.0v3.0h-3.0zM238.2 351.8h3.0v3.0h-3.0zM234.6 370.9h3.0v3.0h-3.0zM251.0 357.5h3.0v3.0h-3.0zM237.1 366.6h3.0v3.0h-3.0zM236.5 348.5h3.0v3.0h-3.0zM234.0 359.2h3.0v3.0h-3.0zM251.2 364.6h3.0v3.0h-3.0zM253.7 354.8h3.0v3.0h-3.0zM239.8 349.0h3.0v3.0h-3.0zM233.0 358.3h3.0v3.0h-3.0zM253.1 375.9h3.0v3.0h-3.0zM246.9 362.4h3.0v3.0h-3.0zM246.1 355.8h3.0v3.0h-3.0zM233.9 363.4h3.0v3.0h-3.0zM238.2 355.7h3.0v3.0h-3.0zM242.1 358.1h3.0v3.0h-3.0zM233.1 360.1h3.0v3.0h-3.0zM253.2 352.3h3.0v3.0h-3.0zM237.2 368.3h3.0v3.0h-3.0zM241.6 374.3h3.0v3.0h-3.0zM250.5 360.8h3.0v3.0h-3.0zM237.6 368.2h3.0v3.0h-3.0zM249.8 355.2h3.0v3.0h-3.0zM234.9 342.2h3.0v3.0h-3.0zM243.2 364.7h3.0v3.0h-3.0zM228.4 368.3h3.0v3.0h-3.0zM244.7 364.5h3.0v3.0h-3.0zM242.7 364.6h3.0v3.0h-3.0zM228.4 368.2h3.0v3.0h-3.0zM246.7 350.8h3.0v3.0h-3.0zM249.7 358.3h3.0v3.0h-3.0zM239.6 343.4h3.0v3.0h-3.0zM235.7 357.0h3.0v3.0h-3.0zM226.9 369.4h3.0v3.0h-3.0zM246.0 354.2h3.0v3.0h-3.0zM237.2 371.9h3.0v3.0h-3.0zM243.3 365.4h3.0v3.0h-3.0zM252.0 364.7h3.0v3.0h-3.0zM237.9 373.6h3.0v3.0h-3.0zM234.5 364.7h3.0v3.0h-3.0zM252.6 352.1h3.0v3.0h-3.0zM242.6 357.0h3.0v3.0h-3.0zM249.1 378.5h3.0v3.0h-3.0zM247.8 366.7h3.0v3.0h-3.0zM231.7 370.2h3.0v3.0h-3.0zM249.8 351.0h3.0v3.0h-3.0zM229.3 355.4h3.0v3.0h-3.0zM223.9 348.3h3.0v3.0h-3.0zM241.0 346.5h3.0v3.0h-3.0zM267.4 359.4h3.0v3.0h-3.0zM257.4 355.8h3.0v3.0h-3.0zM269.0 354.0h3.0v3.0h-3.0zM260.6 364.7h3.0v3.0h-3.0zM276.0 368.9h3.0v3.0h-3.0zM269.7 372.0h3.0v3.0h-3.0zM261.6 360.5h3.0v3.0h-3.0zM279.4 357.5h3.0v3.0h-3.0zM262.5 353.3h3.0v3.0h-3.0zM282.1 366.1h3.0v3.0h-3.0zM258.6 361.9h3.0v3.0h-3.0zM272.0 370.3h3.0v3.0h-3.0zM260.2 343.8h3.0v3.0h-3.0zM277.8 371.2h3.0v3.0h-3.0zM262.4 374.8h3.0v3.0h-3.0zM263.9 347.7h3.0v3.0h-3.0zM275.8 343.0h3.0v3.0h-3.0zM271.9 349.4h3.0v3.0h-3.0zM260.2 357.4h3.0v3.0h-3.0zM271.3 366.2h3.0v3.0h-3.0zM259.4 364.6h3.0v3.0h-3.0zM265.4 369.4h3.0v3.0h-3.0zM278.2 344.5h3.0v3.0h-3.0zM271.2 362.6h3.0v3.0h-3.0zM262.7 356.8h3.0v3.0h-3.0zM272.1 352.8h3.0v3.0h-3.0zM259.2 369.3h3.0v3.0h-3.0zM263.1 375.5h3.0v3.0h-3.0zM260.3 357.5h3.0v3.0h-3.0zM269.6 361.9h3.0v3.0h-3.0zM262.2 350.0h3.0v3.0h-3.0zM265.8 356.4h3.0v3.0h-3.0zM283.7 365.5h3.0v3.0h-3.0zM268.8 350.9h3.0v3.0h-3.0zM257.8 370.1h3.0v3.0h-3.0zM276.5 356.8h3.0v3.0h-3.0zM262.6 370.5h3.0v3.0h-3.0zM259.2 354.2h3.0v3.0h-3.0zM251.9 355.1h3.0v3.0h-3.0zM275.9 367.7h3.0v3.0h-3.0zM269.9 368.7h3.0v3.0h-3.0zM271.6 363.7h3.0v3.0h-3.0zM269.9 348.5h3.0v3.0h-3.0zM276.2 365.2h3.0v3.0h-3.0zM264.8 366.5h3.0v3.0h-3.0zM262.0 352.0h3.0v3.0h-3.0zM279.7 356.9h3.0v3.0h-3.0zM275.8 344.3h3.0v3.0h-3.0zM270.5 362.8h3.0v3.0h-3.0zM261.3 370.0h3.0v3.0h-3.0zM268.3 366.4h3.0v3.0h-3.0zM266.2 357.0h3.0v3.0h-3.0zM262.4 367.1h3.0v3.0h-3.0zM270.8 366.2h3.0v3.0h-3.0zM269.9 361.5h3.0v3.0h-3.0zM264.4 369.1h3.0v3.0h-3.0zM273.6 366.1h3.0v3.0h-3.0zM256.3 367.9h3.0v3.0h-3.0zM264.3 352.5h3.0v3.0h-3.0zM268.8 363.7h3.0v3.0h-3.0zM263.4 367.2h3.0v3.0h-3.0zM275.8 360.9h3.0v3.0h-3.0zM262.7 352.9h3.0v3.0h-3.0zM259.9 354.9h3.0v3.0h-3.0zM277.1 354.2h3.0v3.0h-3.0zM264.6 358.0h3.0v3.0h-3.0zM267.0 351.8h3.0v3.0h-3.0zM276.9 375.8h3.0v3.0h-3.0zM271.2 350.6h3.0v3.0h-3.0zM264.7 374.7h3.0v3.0h-3.0zM260.9 356.8h3.0v3.0h-3.0zM276.6 366.8h3.0v3.0h-3.0zM267.4 357.9h3.0v3.0h-3.0zM278.7 335.6h3.0v3.0h-3.0zM271.0 364.0h3.0v3.0h-3.0zM279.1 363.1h3.0v3.0h-3.0zM278.4 361.3h3.0v3.0h-3.0zM264.8 365.9h3.0v3.0h-3.0zM259.0 360.9h3.0v3.0h-3.0zM260.2 361.4h3.0v3.0h-3.0zM257.9 370.4h3.0v3.0h-3.0zM268.5 363.4h3.0v3.0h-3.0zM268.0 356.5h3.0v3.0h-3.0zM257.4 371.8h3.0v3.0h-3.0zM261.8 369.5h3.0v3.0h-3.0zM264.2 357.6h3.0v3.0h-3.0zM263.9 355.7h3.0v3.0h-3.0zM258.1 357.2h3.0v3.0h-3.0zM275.0 351.4h3.0v3.0h-3.0zM273.9 358.8h3.0v3.0h-3.0zM272.1 360.8h3.0v3.0h-3.0zM276.2 364.4h3.0v3.0h-3.0zM273.4 357.9h3.0v3.0h-3.0zM280.7 354.9h3.0v3.0h-3.0zM272.4 355.0h3.0v3.0h-3.0zM260.3 345.5h3.0v3.0h-3.0zM268.4 369.0h3.0v3.0h-3.0zM255.1 360.7h3.0v3.0h-3.0zM275.3 352.6h3.0v3.0h-3.0zM268.6 364.6h3.0v3.0h-3.0zM276.8 362.7h3.0v3.0h-3.0zM251.7 360.2h3.0v3.0h-3.0zM258.4 368.0h3.0v3.0h-3.0zM252.5 366.6h3.0v3.0h-3.0zM268.2 360.6h3.0v3.0h-3.0zM275.4 354.2h3.0v3.0h-3.0zM269.5 372.9h3.0v3.0h-3.0zM260.7 379.6h3.0v3.0h-3.0zM270.6 368.4h3.0v3.0h-3.0zM261.8 360.9h3.0v3.0h-3.0zM256.0 357.1h3.0v3.0h-3.0zM269.4 366.7h3.0v3.0h-3.0zM269.2 349.7h3.0v3.0h-3.0zM279.9 377.4h3.0v3.0h-3.0zM267.5 363.4h3.0v3.0h-3.0zM270.8 352.7h3.0v3.0h-3.0zM255.4 358.2h3.0v3.0h-3.0zM276.3 365.7h3.0v3.0h-3.0zM267.8 364.6h3.0v3.0h-3.0zM259.1 354.0h3.0v3.0h-3.0zM260.1 367.9h3.0v3.0h-3.0zM273.1 367.2h3.0v3.0h-3.0zM264.0 356.0h3.0v3.0h-3.0zM269.2 352.9h3.0v3.0h-3.0zM261.1 360.3h3.0v3.0h-3.0zM262.1 370.3h3.0v3.0h-3.0zM272.3 365.1h3.0v3.0h-3.0zM275.2 359.2h3.0v3.0h-3.0zM259.9 359.0h3.0v3.0h-3.0zM277.5 357.2h3.0v3.0h-3.0zM277.0 371.5h3.0v3.0h-3.0zM276.0 374.5h3.0v3.0h-3.0zM257.3 367.9h3.0v3.0h-3.0zM258.8 377.9h3.0v3.0h-3.0zM270.9 355.7h3.0v3.0h-3.0zM274.0 358.6h3.0v3.0h-3.0zM268.6 363.5h3.0v3.0h-3.0zM272.5 364.8h3.0v3.0h-3.0zM277.6 359.5h3.0v3.0h-3.0zM259.2 352.0h3.0v3.0h-3.0zM264.5 364.5h3.0v3.0h-3.0zM262.0 363.9h3.0v3.0h-3.0zM262.4 358.6h3.0v3.0h-3.0zM264.6 353.5h3.0v3.0h-3.0zM262.4 356.0h3.0v3.0h-3.0zM267.1 352.7h3.0v3.0h-3.0zM264.0 366.9h3.0v3.0h-3.0zM270.4 372.3h3.0v3.0h-3.0zM263.0 369.1h3.0v3.0h-3.0zM264.0 357.9h3.0v3.0h-3.0zM264.5 357.3h3.0v3.0h-3.0zM279.2 359.8h3.0v3.0h-3.0zM267.5 369.1h3.0v3.0h-3.0zM272.7 361.4h3.0v3.0h-3.0zM269.1 352.8h3.0v3.0h-3.0zM262.9 374.8h3.0v3.0h-3.0zM277.4 371.6h3.0v3.0h-3.0zM256.2 367.1h3.0v3.0h-3.0zM278.3 359.9h3.0v3.0h-3.0zM257.1 363.3h3.0v3.0h-3.0zM256.7 355.7h3.0v3.0h-3.0zM271.0 349.0h3.0v3.0h-3.0zM260.4 364.3h3.0v3.0h-3.0zM261.7 362.9h3.0v3.0h-3.0zM271.2 364.6h3.0v3.0h-3.0zM259.5 352.9h3.0v3.0h-3.0zM283.3 359.3h3.0v3.0h-3.0zM255.5 360.8h3.0v3.0h-3.0zM270.9 366.6h3.0v3.0h-3.0zM270.5 366.0h3.0v3.0h-3.0zM280.8 361.6h3.0v3.0h-3.0zM283.0 366.8h3.0v3.0h-3.0zM287.6 352.4h3.0v3.0h-3.0zM293.0 356.7h3.0v3.0h-3.0zM306.0 369.8h3.0v3.0h-3.0zM297.4 351.7h3.0v3.0h-3.0zM310.2 367.0h3.0v3.0h-3.0zM287.6 352.9h3.0v3.0h-3.0zM293.7 354.1h3.0v3.0h-3.0zM287.0 362.9h3.0v3.0h-3.0zM286.1 361.3h3.0v3.0h-3.0zM285.7 352.3h3.0v3.0h-3.0zM292.6 345.4h3.0v3.0h-3.0zM296.8 366.9h3.0v3.0h-3.0zM303.5 349.0h3.0v3.0h-3.0zM293.4 362.8h3.0v3.0h-3.0zM309.4 353.6h3.0v3.0h-3.0zM307.0 366.5h3.0v3.0h-3.0zM297.5 371.5h3.0v3.0h-3.0zM289.2 361.9h3.0v3.0h-3.0zM299.0 367.7h3.0v3.0h-3.0zM289.9 370.9h3.0v3.0h-3.0zM285.7 356.6h3.0v3.0h-3.0zM301.7 365.4h3.0v3.0h-3.0zM284.2 373.7h3.0v3.0h-3.0zM285.0 364.7h3.0v3.0h-3.0zM289.0 356.8h3.0v3.0h-3.0zM299.1 366.5h3.0v3.0h-3.0zM275.4 347.9h3.0v3.0h-3.0zM283.5 355.3h3.0v3.0h-3.0zM282.4 360.8h3.0v3.0h-3.0zM292.4 351.8h3.0v3.0h-3.0zM299.8 350.1h3.0v3.0h-3.0zM300.1 356.6h3.0v3.0h-3.0zM298.8 370.6h3.0v3.0h-3.0zM289.7 348.1h3.0v3.0h-3.0zM289.8 366.2h3.0v3.0h-3.0zM287.1 358.8h3.0v3.0h-3.0zM301.2 372.9h3.0v3.0h-3.0zM282.4 349.7h3.0v3.0h-3.0zM290.4 356.5h3.0v3.0h-3.0zM279.5 363.1h3.0v3.0h-3.0zM309.5 364.3h3.0v3.0h-3.0zM300.5 356.7h3.0v3.0h-3.0zM303.9 359.2h3.0v3.0h-3.0zM281.7 362.2h3.0v3.0h-3.0zM280.6 347.2h3.0v3.0h-3.0zM309.3 353.9h3.0v3.0h-3.0zM283.7 355.6h3.0v3.0h-3.0zM278.1 371.2h3.0v3.0h-3.0zM292.6 353.7h3.0v3.0h-3.0zM299.5 361.7h3.0v3.0h-3.0zM294.7 371.1h3.0v3.0h-3.0zM290.9 361.7h3.0v3.0h-3.0zM304.4 363.9h3.0v3.0h-3.0zM286.5 367.6h3.0v3.0h-3.0zM304.6 359.7h3.0v3.0h-3.0zM299.8 354.8h3.0v3.0h-3.0zM293.6 362.4h3.0v3.0h-3.0zM289.4 354.0h3.0v3.0h-3.0zM288.2 352.8h3.0v3.0h-3.0zM301.3 359.1h3.0v3.0h-3.0zM300.7 354.5h3.0v3.0h-3.0zM283.0 359.6h3.0v3.0h-3.0zM292.1 365.5h3.0v3.0h-3.0zM301.9 369.3h3.0v3.0h-3.0zM286.4 359.7h3.0v3.0h-3.0zM285.0 365.6h3.0v3.0h-3.0zM296.9 351.8h3.0v3.0h-3.0zM286.1 362.0h3.0v3.0h-3.0zM296.2 363.0h3.0v3.0h-3.0zM279.3 369.5h3.0v3.0h-3.0zM307.6 358.1h3.0v3.0h-3.0zM298.1 353.5h3.0v3.0h-3.0zM277.2 366.9h3.0v3.0h-3.0zM298.6 360.3h3.0v3.0h-3.0zM290.9 350.2h3.0v3.0h-3.0zM311.7 354.5h3.0v3.0h-3.0zM276.6 367.2h3.0v3.0h-3.0zM300.9 355.3h3.0v3.0h-3.0zM283.7 362.3h3.0v3.0h-3.0zM290.5 358.6h3.0v3.0h-3.0zM284.4 364.7h3.0v3.0h-3.0zM294.9 367.2h3.0v3.0h-3.0zM276.0 350.8h3.0v3.0h-3.0zM303.2 352.4h3.0v3.0h-3.0zM303.1 352.3h3.0v3.0h-3.0zM281.0 350.6h3.0v3.0h-3.0zM293.7 371.6h3.0v3.0h-3.0zM285.4 353.7h3.0v3.0h-3.0zM284.8 364.0h3.0v3.0h-3.0zM286.6 368.3h3.0v3.0h-3.0zM294.2 363.5h3.0v3.0h-3.0zM277.7 366.8h3.0v3.0h-3.0zM288.2 372.4h3.0v3.0h-3.0zM295.7 358.7h3.0v3.0h-3.0zM289.2 363.0h3.0v3.0h-3.0zM280.7 355.3h3.0v3.0h-3.0zM295.6 372.5h3.0v3.0h-3.0zM283.1 373.4h3.0v3.0h-3.0zM293.5 360.3h3.0v3.0h-3.0zM289.4 371.4h3.0v3.0h-3.0zM330.6 355.1h3.0v3.0h-3.0zM326.9 353.2h3.0v3.0h-3.0zM322.3 373.3h3.0v3.0h-3.0zM307.4 347.0h3.0v3.0h-3.0zM327.0 365.0h3.0v3.0h-3.0zM333.4 364.7h3.0v3.0h-3.0zM314.3 359.9h3.0v3.0h-3.0zM330.1 346.1h3.0v3.0h-3.0zM309.0 371.2h3.0v3.0h-3.0zM314.3 368.7h3.0v3.0h-3.0zM324.2 360.4h3.0v3.0h-3.0zM330.4 345.1h3.0v3.0h-3.0zM322.3 363.2h3.0v3.0h-3.0zM321.5 364.8h3.0v3.0h-3.0zM315.9 367.3h3.0v3.0h-3.0zM324.7 351.1h3.0v3.0h-3.0zM331.9 361.4h3.0v3.0h-3.0zM325.2 346.4h3.0v3.0h-3.0zM356.0 363.1h3.0v3.0h-3.0zM336.8 370.5h3.0v3.0h-3.0zM348.9 363.8h3.0v3.0h-3.0zM337.0 362.5h3.0v3.0h-3.0zM342.6 375.0h3.0v3.0h-3.0zM345.4 355.8h3.0v3.0h-3.0zM158.1 396.2h3.0v3.0h-3.0zM163.4 389.2h3.0v3.0h-3.0zM175.0 373.0h3.0v3.0h-3.0zM185.8 397.0h3.0v3.0h-3.0zM191.4 381.6h3.0v3.0h-3.0zM209.1 379.6h3.0v3.0h-3.0zM209.1 390.1h3.0v3.0h-3.0zM206.2 390.9h3.0v3.0h-3.0zM204.4 388.2h3.0v3.0h-3.0zM214.5 381.2h3.0v3.0h-3.0zM211.3 386.7h3.0v3.0h-3.0zM228.1 378.7h3.0v3.0h-3.0zM211.8 397.8h3.0v3.0h-3.0zM229.2 395.9h3.0v3.0h-3.0zM206.0 388.9h3.0v3.0h-3.0zM210.7 394.2h3.0v3.0h-3.0zM204.3 380.3h3.0v3.0h-3.0zM203.0 390.3h3.0v3.0h-3.0zM212.5 404.2h3.0v3.0h-3.0zM215.3 379.1h3.0v3.0h-3.0zM212.8 384.3h3.0v3.0h-3.0zM207.5 380.5h3.0v3.0h-3.0zM220.6 376.1h3.0v3.0h-3.0zM250.1 383.9h3.0v3.0h-3.0zM246.1 385.7h3.0v3.0h-3.0zM243.6 389.9h3.0v3.0h-3.0zM251.2 379.3h3.0v3.0h-3.0zM248.3 381.2h3.0v3.0h-3.0zM243.7 391.0h3.0v3.0h-3.0zM238.8 389.7h3.0v3.0h-3.0zM251.4 398.3h3.0v3.0h-3.0zM246.0 377.8h3.0v3.0h-3.0zM231.1 386.1h3.0v3.0h-3.0zM230.3 398.2h3.0v3.0h-3.0zM261.0 399.2h3.0v3.0h-3.0zM242.2 383.2h3.0v3.0h-3.0zM236.4 386.0h3.0v3.0h-3.0zM243.6 380.5h3.0v3.0h-3.0zM246.2 398.1h3.0v3.0h-3.0zM238.7 369.8h3.0v3.0h-3.0zM242.2 384.7h3.0v3.0h-3.0zM230.5 395.8h3.0v3.0h-3.0zM241.3 393.4h3.0v3.0h-3.0zM250.6 391.2h3.0v3.0h-3.0zM248.2 395.9h3.0v3.0h-3.0zM240.9 378.0h3.0v3.0h-3.0zM228.1 380.8h3.0v3.0h-3.0zM244.2 390.3h3.0v3.0h-3.0zM252.0 393.5h3.0v3.0h-3.0zM244.3 377.1h3.0v3.0h-3.0zM245.2 378.2h3.0v3.0h-3.0zM238.8 375.8h3.0v3.0h-3.0zM235.1 384.2h3.0v3.0h-3.0zM243.6 393.3h3.0v3.0h-3.0zM228.4 378.0h3.0v3.0h-3.0zM222.7 384.2h3.0v3.0h-3.0zM250.9 373.5h3.0v3.0h-3.0zM243.5 384.2h3.0v3.0h-3.0zM234.0 383.1h3.0v3.0h-3.0zM233.5 376.8h3.0v3.0h-3.0zM240.0 380.7h3.0v3.0h-3.0zM237.7 383.9h3.0v3.0h-3.0zM239.0 366.9h3.0v3.0h-3.0zM241.6 400.6h3.0v3.0h-3.0zM232.9 384.7h3.0v3.0h-3.0zM241.6 378.3h3.0v3.0h-3.0zM243.4 398.9h3.0v3.0h-3.0zM233.4 387.9h3.0v3.0h-3.0zM237.4 388.8h3.0v3.0h-3.0zM247.2 383.3h3.0v3.0h-3.0zM240.3 377.9h3.0v3.0h-3.0zM246.4 399.6h3.0v3.0h-3.0zM246.9 391.3h3.0v3.0h-3.0zM236.8 378.5h3.0v3.0h-3.0zM237.6 384.2h3.0v3.0h-3.0zM231.9 387.6h3.0v3.0h-3.0zM235.6 379.7h3.0v3.0h-3.0zM250.3 385.6h3.0v3.0h-3.0zM242.0 396.1h3.0v3.0h-3.0zM250.1 382.8h3.0v3.0h-3.0zM251.6 379.9h3.0v3.0h-3.0zM247.6 397.4h3.0v3.0h-3.0zM241.2 386.1h3.0v3.0h-3.0zM255.2 391.3h3.0v3.0h-3.0zM226.5 385.9h3.0v3.0h-3.0zM230.9 387.8h3.0v3.0h-3.0zM230.6 379.1h3.0v3.0h-3.0zM272.1 400.3h3.0v3.0h-3.0zM283.3 385.0h3.0v3.0h-3.0zM269.1 385.9h3.0v3.0h-3.0zM266.0 391.0h3.0v3.0h-3.0zM269.0 390.6h3.0v3.0h-3.0zM261.4 374.2h3.0v3.0h-3.0zM255.4 379.3h3.0v3.0h-3.0zM267.0 375.1h3.0v3.0h-3.0zM276.3 377.7h3.0v3.0h-3.0zM283.6 377.5h3.0v3.0h-3.0zM260.4 405.7h3.0v3.0h-3.0zM260.9 382.0h3.0v3.0h-3.0zM273.2 381.2h3.0v3.0h-3.0zM263.0 376.1h3.0v3.0h-3.0zM265.3 382.4h3.0v3.0h-3.0zM271.3 378.2h3.0v3.0h-3.0zM257.5 375.3h3.0v3.0h-3.0zM269.1 386.5h3.0v3.0h-3.0zM266.9 394.4h3.0v3.0h-3.0zM269.7 375.7h3.0v3.0h-3.0zM284.3 394.7h3.0v3.0h-3.0zM264.3 390.7h3.0v3.0h-3.0zM272.3 379.9h3.0v3.0h-3.0zM257.6 396.3h3.0v3.0h-3.0zM293.4 396.0h3.0v3.0h-3.0zM259.7 384.5h3.0v3.0h-3.0zM256.8 389.0h3.0v3.0h-3.0zM269.3 381.0h3.0v3.0h-3.0zM254.3 396.0h3.0v3.0h-3.0zM260.0 388.1h3.0v3.0h-3.0zM272.4 387.7h3.0v3.0h-3.0zM258.0 382.6h3.0v3.0h-3.0zM275.0 394.5h3.0v3.0h-3.0zM272.5 387.5h3.0v3.0h-3.0zM282.4 387.3h3.0v3.0h-3.0zM258.8 383.2h3.0v3.0h-3.0zM279.8 392.9h3.0v3.0h-3.0zM259.4 389.1h3.0v3.0h-3.0zM273.2 402.5h3.0v3.0h-3.0zM276.9 376.6h3.0v3.0h-3.0zM278.6 388.1h3.0v3.0h-3.0zM281.1 377.0h3.0v3.0h-3.0zM283.3 391.6h3.0v3.0h-3.0zM263.4 392.4h3.0v3.0h-3.0zM274.5 391.8h3.0v3.0h-3.0zM262.3 383.3h3.0v3.0h-3.0zM274.3 390.9h3.0v3.0h-3.0zM258.5 377.7h3.0v3.0h-3.0zM264.7 393.3h3.0v3.0h-3.0zM277.4 396.4h3.0v3.0h-3.0zM279.4 397.0h3.0v3.0h-3.0zM261.5 380.0h3.0v3.0h-3.0zM261.9 385.2h3.0v3.0h-3.0zM264.6 368.7h3.0v3.0h-3.0zM263.6 375.9h3.0v3.0h-3.0zM271.4 374.2h3.0v3.0h-3.0zM276.6 375.4h3.0v3.0h-3.0zM255.8 384.0h3.0v3.0h-3.0zM260.5 398.2h3.0v3.0h-3.0zM266.4 392.7h3.0v3.0h-3.0zM275.3 396.0h3.0v3.0h-3.0zM264.2 384.2h3.0v3.0h-3.0zM270.1 386.1h3.0v3.0h-3.0zM276.0 375.0h3.0v3.0h-3.0zM260.9 393.0h3.0v3.0h-3.0zM259.1 384.7h3.0v3.0h-3.0zM270.6 401.4h3.0v3.0h-3.0zM270.8 396.3h3.0v3.0h-3.0zM258.6 381.1h3.0v3.0h-3.0zM271.4 387.9h3.0v3.0h-3.0zM273.4 375.8h3.0v3.0h-3.0zM262.2 393.5h3.0v3.0h-3.0zM263.1 377.6h3.0v3.0h-3.0zM263.9 399.6h3.0v3.0h-3.0zM267.8 374.4h3.0v3.0h-3.0zM272.3 381.3h3.0v3.0h-3.0zM268.5 385.0h3.0v3.0h-3.0zM265.0 387.0h3.0v3.0h-3.0zM261.6 379.1h3.0v3.0h-3.0zM279.4 389.5h3.0v3.0h-3.0zM258.9 390.0h3.0v3.0h-3.0zM259.9 386.5h3.0v3.0h-3.0zM272.6 377.5h3.0v3.0h-3.0zM275.8 389.0h3.0v3.0h-3.0zM260.2 375.0h3.0v3.0h-3.0zM275.4 382.6h3.0v3.0h-3.0zM269.2 377.3h3.0v3.0h-3.0zM265.1 396.6h3.0v3.0h-3.0zM261.8 377.4h3.0v3.0h-3.0zM254.1 386.4h3.0v3.0h-3.0zM253.9 394.2h3.0v3.0h-3.0zM245.0 390.3h3.0v3.0h-3.0zM293.8 391.3h3.0v3.0h-3.0zM295.2 380.4h3.0v3.0h-3.0zM291.0 374.3h3.0v3.0h-3.0zM291.0 378.6h3.0v3.0h-3.0zM275.8 399.7h3.0v3.0h-3.0zM300.2 390.2h3.0v3.0h-3.0zM282.7 375.8h3.0v3.0h-3.0zM296.7 390.0h3.0v3.0h-3.0zM290.8 385.4h3.0v3.0h-3.0zM280.1 381.0h3.0v3.0h-3.0zM298.4 399.1h3.0v3.0h-3.0zM279.4 392.5h3.0v3.0h-3.0zM303.0 397.2h3.0v3.0h-3.0zM287.5 399.2h3.0v3.0h-3.0zM298.5 393.4h3.0v3.0h-3.0zM301.9 386.6h3.0v3.0h-3.0zM297.9 388.4h3.0v3.0h-3.0zM285.4 387.7h3.0v3.0h-3.0zM288.1 380.1h3.0v3.0h-3.0zM277.2 374.3h3.0v3.0h-3.0zM298.5 381.1h3.0v3.0h-3.0zM298.7 393.2h3.0v3.0h-3.0zM276.9 385.2h3.0v3.0h-3.0zM283.3 381.9h3.0v3.0h-3.0zM301.6 397.6h3.0v3.0h-3.0zM286.4 386.8h3.0v3.0h-3.0zM295.1 381.8h3.0v3.0h-3.0zM288.3 378.2h3.0v3.0h-3.0zM290.2 401.5h3.0v3.0h-3.0zM299.5 400.3h3.0v3.0h-3.0zM285.8 381.3h3.0v3.0h-3.0zM270.7 382.7h3.0v3.0h-3.0zM294.0 380.7h3.0v3.0h-3.0zM283.1 387.9h3.0v3.0h-3.0zM284.9 382.9h3.0v3.0h-3.0zM289.0 390.0h3.0v3.0h-3.0zM308.1 384.8h3.0v3.0h-3.0zM292.3 396.5h3.0v3.0h-3.0zM288.7 390.8h3.0v3.0h-3.0zM294.7 393.5h3.0v3.0h-3.0zM297.3 399.3h3.0v3.0h-3.0zM284.3 392.6h3.0v3.0h-3.0zM301.3 377.4h3.0v3.0h-3.0zM283.5 387.1h3.0v3.0h-3.0zM286.2 389.6h3.0v3.0h-3.0zM283.8 391.8h3.0v3.0h-3.0zM289.7 379.4h3.0v3.0h-3.0zM296.2 394.0h3.0v3.0h-3.0zM316.4 393.5h3.0v3.0h-3.0zM314.0 393.0h3.0v3.0h-3.0zM318.3 396.5h3.0v3.0h-3.0zM315.4 391.6h3.0v3.0h-3.0zM306.9 396.3h3.0v3.0h-3.0zM305.7 398.7h3.0v3.0h-3.0zM302.9 393.7h3.0v3.0h-3.0zM313.0 385.4h3.0v3.0h-3.0zM302.0 385.0h3.0v3.0h-3.0zM314.8 398.0h3.0v3.0h-3.0zM312.1 380.5h3.0v3.0h-3.0zM327.7 388.9h3.0v3.0h-3.0zM329.2 392.7h3.0v3.0h-3.0zM331.7 377.4h3.0v3.0h-3.0zM333.3 383.3h3.0v3.0h-3.0zM333.1 374.6h3.0v3.0h-3.0zM334.9 389.2h3.0v3.0h-3.0zM338.5 378.6h3.0v3.0h-3.0zM352.1 389.6h3.0v3.0h-3.0zM340.4 402.8h3.0v3.0h-3.0zM341.2 384.3h3.0v3.0h-3.0zM336.0 380.0h3.0v3.0h-3.0zM181.4 401.4h3.0v3.0h-3.0zM181.9 404.3h3.0v3.0h-3.0zM188.1 414.2h3.0v3.0h-3.0zM191.8 414.5h3.0v3.0h-3.0zM194.8 418.8h3.0v3.0h-3.0zM191.6 419.1h3.0v3.0h-3.0zM213.9 405.1h3.0v3.0h-3.0zM205.1 412.0h3.0v3.0h-3.0zM213.1 420.5h3.0v3.0h-3.0zM232.2 421.0h3.0v3.0h-3.0zM226.0 399.3h3.0v3.0h-3.0zM220.3 419.3h3.0v3.0h-3.0zM208.2 420.0h3.0v3.0h-3.0zM220.0 407.3h3.0v3.0h-3.0zM206.9 407.2h3.0v3.0h-3.0zM223.6 399.9h3.0v3.0h-3.0zM214.7 424.8h3.0v3.0h-3.0zM229.3 403.3h3.0v3.0h-3.0zM231.4 416.5h3.0v3.0h-3.0zM209.6 413.7h3.0v3.0h-3.0zM207.6 400.0h3.0v3.0h-3.0zM216.0 416.3h3.0v3.0h-3.0zM221.1 418.8h3.0v3.0h-3.0zM208.5 420.8h3.0v3.0h-3.0zM232.2 396.7h3.0v3.0h-3.0zM202.7 417.6h3.0v3.0h-3.0zM227.7 411.6h3.0v3.0h-3.0zM237.0 411.2h3.0v3.0h-3.0zM255.1 419.7h3.0v3.0h-3.0zM243.4 420.6h3.0v3.0h-3.0zM238.1 405.1h3.0v3.0h-3.0zM247.8 405.4h3.0v3.0h-3.0zM236.6 413.1h3.0v3.0h-3.0zM251.8 412.7h3.0v3.0h-3.0zM245.7 405.8h3.0v3.0h-3.0zM232.0 408.3h3.0v3.0h-3.0zM229.3 412.8h3.0v3.0h-3.0zM230.1 418.8h3.0v3.0h-3.0zM226.4 408.5h3.0v3.0h-3.0zM247.2 430.8h3.0v3.0h-3.0zM237.7 404.0h3.0v3.0h-3.0zM235.7 405.7h3.0v3.0h-3.0zM243.8 412.7h3.0v3.0h-3.0zM246.3 406.0h3.0v3.0h-3.0zM244.9 407.4h3.0v3.0h-3.0zM248.4 413.2h3.0v3.0h-3.0zM248.8 411.0h3.0v3.0h-3.0zM235.7 402.2h3.0v3.0h-3.0zM234.9 396.5h3.0v3.0h-3.0zM242.9 423.5h3.0v3.0h-3.0zM239.4 401.7h3.0v3.0h-3.0zM252.1 402.4h3.0v3.0h-3.0zM231.7 411.4h3.0v3.0h-3.0zM231.5 401.3h3.0v3.0h-3.0zM245.5 415.4h3.0v3.0h-3.0zM254.0 408.7h3.0v3.0h-3.0zM234.7 427.1h3.0v3.0h-3.0zM248.2 428.4h3.0v3.0h-3.0zM243.1 414.0h3.0v3.0h-3.0zM230.6 414.7h3.0v3.0h-3.0zM252.2 420.2h3.0v3.0h-3.0zM238.2 411.4h3.0v3.0h-3.0zM238.1 421.9h3.0v3.0h-3.0zM248.4 413.7h3.0v3.0h-3.0zM242.0 406.8h3.0v3.0h-3.0zM235.2 410.6h3.0v3.0h-3.0zM244.9 409.4h3.0v3.0h-3.0zM243.1 404.9h3.0v3.0h-3.0zM252.4 400.9h3.0v3.0h-3.0zM239.9 398.5h3.0v3.0h-3.0zM245.5 403.7h3.0v3.0h-3.0zM245.2 415.1h3.0v3.0h-3.0zM234.2 402.1h3.0v3.0h-3.0zM230.8 411.7h3.0v3.0h-3.0zM230.4 414.4h3.0v3.0h-3.0zM243.9 403.5h3.0v3.0h-3.0zM223.0 398.5h3.0v3.0h-3.0zM250.7 411.2h3.0v3.0h-3.0zM232.7 410.1h3.0v3.0h-3.0zM245.5 415.2h3.0v3.0h-3.0zM232.2 405.9h3.0v3.0h-3.0zM260.7 420.2h3.0v3.0h-3.0zM257.6 408.6h3.0v3.0h-3.0zM241.4 414.6h3.0v3.0h-3.0zM238.6 414.3h3.0v3.0h-3.0zM240.7 424.9h3.0v3.0h-3.0zM241.4 424.4h3.0v3.0h-3.0zM242.9 394.6h3.0v3.0h-3.0zM256.5 419.2h3.0v3.0h-3.0zM222.4 421.0h3.0v3.0h-3.0zM228.6 404.0h3.0v3.0h-3.0zM238.3 406.8h3.0v3.0h-3.0zM230.5 418.5h3.0v3.0h-3.0zM245.6 415.1h3.0v3.0h-3.0zM251.2 421.7h3.0v3.0h-3.0zM245.8 418.5h3.0v3.0h-3.0zM248.5 422.5h3.0v3.0h-3.0zM236.2 409.0h3.0v3.0h-3.0zM246.1 401.9h3.0v3.0h-3.0zM243.0 421.5h3.0v3.0h-3.0zM257.0 418.1h3.0v3.0h-3.0zM250.1 416.3h3.0v3.0h-3.0zM268.9 426.8h3.0v3.0h-3.0zM265.5 408.3h3.0v3.0h-3.0zM255.7 411.4h3.0v3.0h-3.0zM262.9 402.0h3.0v3.0h-3.0zM273.8 402.5h3.0v3.0h-3.0zM257.3 417.1h3.0v3.0h-3.0zM274.1 421.0h3.0v3.0h-3.0zM266.4 427.6h3.0v3.0h-3.0zM257.0 402.9h3.0v3.0h-3.0zM269.9 417.0h3.0v3.0h-3.0zM270.4 420.6h3.0v3.0h-3.0zM258.6 426.6h3.0v3.0h-3.0zM271.7 402.2h3.0v3.0h-3.0zM261.1 417.7h3.0v3.0h-3.0zM254.2 407.5h3.0v3.0h-3.0zM258.0 398.3h3.0v3.0h-3.0zM276.1 425.5h3.0v3.0h-3.0zM270.0 399.9h3.0v3.0h-3.0zM265.6 415.8h3.0v3.0h-3.0zM275.5 407.3h3.0v3.0h-3.0zM269.0 405.4h3.0v3.0h-3.0zM261.7 416.0h3.0v3.0h-3.0zM261.6 405.5h3.0v3.0h-3.0zM257.0 417.2h3.0v3.0h-3.0zM259.7 408.9h3.0v3.0h-3.0zM278.1 406.3h3.0v3.0h-3.0zM274.7 411.2h3.0v3.0h-3.0zM271.3 418.7h3.0v3.0h-3.0zM274.9 414.0h3.0v3.0h-3.0zM260.4 425.6h3.0v3.0h-3.0zM258.0 398.6h3.0v3.0h-3.0zM250.7 425.7h3.0v3.0h-3.0zM264.9 417.6h3.0v3.0h-3.0zM277.2 407.6h3.0v3.0h-3.0zM246.7 413.1h3.0v3.0h-3.0zM277.0 421.0h3.0v3.0h-3.0zM265.4 404.6h3.0v3.0h-3.0zM264.0 423.3h3.0v3.0h-3.0zM271.2 419.5h3.0v3.0h-3.0zM266.6 416.4h3.0v3.0h-3.0zM261.6 406.1h3.0v3.0h-3.0zM277.7 398.6h3.0v3.0h-3.0zM264.8 406.0h3.0v3.0h-3.0zM277.4 408.0h3.0v3.0h-3.0zM278.7 415.9h3.0v3.0h-3.0zM260.6 414.2h3.0v3.0h-3.0zM259.7 418.6h3.0v3.0h-3.0zM261.2 416.1h3.0v3.0h-3.0zM258.9 418.6h3.0v3.0h-3.0zM259.6 419.7h3.0v3.0h-3.0zM255.4 414.0h3.0v3.0h-3.0zM259.7 410.0h3.0v3.0h-3.0zM276.6 407.5h3.0v3.0h-3.0zM276.2 409.5h3.0v3.0h-3.0zM270.9 423.7h3.0v3.0h-3.0zM266.1 410.4h3.0v3.0h-3.0zM263.7 409.1h3.0v3.0h-3.0zM272.2 409.6h3.0v3.0h-3.0zM260.2 414.2h3.0v3.0h-3.0zM280.3 417.6h3.0v3.0h-3.0zM265.7 416.3h3.0v3.0h-3.0zM250.5 417.5h3.0v3.0h-3.0zM267.8 395.5h3.0v3.0h-3.0zM263.5 411.5h3.0v3.0h-3.0zM263.3 396.7h3.0v3.0h-3.0zM265.4 416.2h3.0v3.0h-3.0zM256.6 419.0h3.0v3.0h-3.0zM265.1 401.6h3.0v3.0h-3.0zM271.8 399.6h3.0v3.0h-3.0zM255.4 408.5h3.0v3.0h-3.0zM272.4 407.1h3.0v3.0h-3.0zM278.7 416.9h3.0v3.0h-3.0zM278.8 414.9h3.0v3.0h-3.0zM273.8 421.8h3.0v3.0h-3.0zM263.5 407.4h3.0v3.0h-3.0zM261.7 397.1h3.0v3.0h-3.0zM269.6 412.1h3.0v3.0h-3.0zM260.5 415.8h3.0v3.0h-3.0zM260.1 405.5h3.0v3.0h-3.0zM256.8 408.3h3.0v3.0h-3.0zM268.5 415.6h3.0v3.0h-3.0zM251.5 419.6h3.0v3.0h-3.0zM259.8 419.3h3.0v3.0h-3.0zM279.0 420.2h3.0v3.0h-3.0zM266.1 417.5h3.0v3.0h-3.0zM280.5 421.1h3.0v3.0h-3.0zM255.4 417.1h3.0v3.0h-3.0zM266.1 417.6h3.0v3.0h-3.0zM273.0 405.2h3.0v3.0h-3.0zM267.9 397.4h3.0v3.0h-3.0zM263.2 408.6h3.0v3.0h-3.0zM275.5 418.3h3.0v3.0h-3.0zM261.2 421.1h3.0v3.0h-3.0zM252.5 409.7h3.0v3.0h-3.0zM265.6 422.8h3.0v3.0h-3.0zM287.1 403.3h3.0v3.0h-3.0zM282.1 415.6h3.0v3.0h-3.0zM290.3 413.6h3.0v3.0h-3.0zM282.2 399.2h3.0v3.0h-3.0zM287.6 423.2h3.0v3.0h-3.0zM284.4 400.1h3.0v3.0h-3.0zM289.8 425.0h3.0v3.0h-3.0zM281.7 416.7h3.0v3.0h-3.0zM293.7 411.5h3.0v3.0h-3.0zM294.8 404.9h3.0v3.0h-3.0zM278.9 412.0h3.0v3.0h-3.0zM278.8 419.6h3.0v3.0h-3.0zM297.3 420.2h3.0v3.0h-3.0zM301.0 410.9h3.0v3.0h-3.0zM296.6 411.7h3.0v3.0h-3.0zM281.0 401.4h3.0v3.0h-3.0zM285.3 416.9h3.0v3.0h-3.0zM296.0 413.7h3.0v3.0h-3.0zM300.0 419.5h3.0v3.0h-3.0zM290.5 416.3h3.0v3.0h-3.0zM294.9 418.3h3.0v3.0h-3.0zM293.1 412.8h3.0v3.0h-3.0zM291.6 422.2h3.0v3.0h-3.0zM303.9 396.2h3.0v3.0h-3.0zM299.9 422.4h3.0v3.0h-3.0zM306.8 410.0h3.0v3.0h-3.0zM292.7 414.0h3.0v3.0h-3.0zM282.9 416.8h3.0v3.0h-3.0zM304.2 414.5h3.0v3.0h-3.0zM308.5 412.1h3.0v3.0h-3.0zM291.9 403.4h3.0v3.0h-3.0zM279.6 402.4h3.0v3.0h-3.0zM293.8 396.0h3.0v3.0h-3.0zM292.5 410.4h3.0v3.0h-3.0zM304.7 405.8h3.0v3.0h-3.0zM297.9 423.5h3.0v3.0h-3.0zM282.0 398.9h3.0v3.0h-3.0zM290.6 412.4h3.0v3.0h-3.0zM292.1 406.4h3.0v3.0h-3.0zM301.8 421.1h3.0v3.0h-3.0zM290.6 416.7h3.0v3.0h-3.0zM276.2 421.7h3.0v3.0h-3.0zM292.0 414.7h3.0v3.0h-3.0zM295.6 398.5h3.0v3.0h-3.0zM277.8 410.3h3.0v3.0h-3.0zM296.6 393.6h3.0v3.0h-3.0zM316.9 418.2h3.0v3.0h-3.0zM312.0 401.4h3.0v3.0h-3.0zM305.7 417.0h3.0v3.0h-3.0zM322.5 409.3h3.0v3.0h-3.0zM310.6 399.3h3.0v3.0h-3.0zM328.9 406.4h3.0v3.0h-3.0zM316.5 420.6h3.0v3.0h-3.0zM310.7 420.8h3.0v3.0h-3.0zM320.9 405.6h3.0v3.0h-3.0zM308.1 399.2h3.0v3.0h-3.0zM341.6 410.5h3.0v3.0h-3.0zM345.9 396.2h3.0v3.0h-3.0zM352.3 417.1h3.0v3.0h-3.0zM348.1 398.1h3.0v3.0h-3.0zM349.6 411.0h3.0v3.0h-3.0zM336.7 415.2h3.0v3.0h-3.0zM349.7 393.2h3.0v3.0h-3.0zM351.0 410.7h3.0v3.0h-3.0zM350.0 407.8h3.0v3.0h-3.0zM332.0 420.4h3.0v3.0h-3.0zM181.4 447.9h3.0v3.0h-3.0zM194.0 421.4h3.0v3.0h-3.0zM178.8 439.9h3.0v3.0h-3.0zM201.5 429.0h3.0v3.0h-3.0zM197.7 436.1h3.0v3.0h-3.0zM201.2 426.5h3.0v3.0h-3.0zM197.8 440.4h3.0v3.0h-3.0zM208.2 443.3h3.0v3.0h-3.0zM202.7 442.9h3.0v3.0h-3.0zM217.1 437.9h3.0v3.0h-3.0zM216.3 430.0h3.0v3.0h-3.0zM232.6 425.8h3.0v3.0h-3.0zM218.6 437.2h3.0v3.0h-3.0zM217.1 452.2h3.0v3.0h-3.0zM216.2 439.0h3.0v3.0h-3.0zM205.8 431.3h3.0v3.0h-3.0zM229.8 448.4h3.0v3.0h-3.0zM226.6 420.8h3.0v3.0h-3.0zM231.1 447.0h3.0v3.0h-3.0zM249.3 432.0h3.0v3.0h-3.0zM243.5 422.8h3.0v3.0h-3.0zM238.1 449.9h3.0v3.0h-3.0zM255.1 442.1h3.0v3.0h-3.0zM234.5 446.4h3.0v3.0h-3.0zM249.4 433.3h3.0v3.0h-3.0zM253.4 427.0h3.0v3.0h-3.0zM243.7 426.1h3.0v3.0h-3.0zM240.0 426.2h3.0v3.0h-3.0zM227.0 433.7h3.0v3.0h-3.0zM237.9 429.7h3.0v3.0h-3.0zM237.1 434.4h3.0v3.0h-3.0zM231.0 431.7h3.0v3.0h-3.0zM247.7 426.2h3.0v3.0h-3.0zM245.5 436.3h3.0v3.0h-3.0zM256.2 436.9h3.0v3.0h-3.0zM234.2 438.5h3.0v3.0h-3.0zM248.2 438.9h3.0v3.0h-3.0zM234.0 423.0h3.0v3.0h-3.0zM242.7 431.7h3.0v3.0h-3.0zM241.1 443.9h3.0v3.0h-3.0zM237.0 423.7h3.0v3.0h-3.0zM249.4 433.8h3.0v3.0h-3.0zM243.0 427.6h3.0v3.0h-3.0zM253.4 434.7h3.0v3.0h-3.0zM252.8 443.9h3.0v3.0h-3.0zM273.9 443.1h3.0v3.0h-3.0zM266.9 448.0h3.0v3.0h-3.0zM274.3 429.6h3.0v3.0h-3.0zM274.7 441.2h3.0v3.0h-3.0zM261.2 438.8h3.0v3.0h-3.0zM257.6 438.4h3.0v3.0h-3.0zM262.6 419.9h3.0v3.0h-3.0zM274.7 432.6h3.0v3.0h-3.0zM259.2 437.6h3.0v3.0h-3.0zM277.1 433.4h3.0v3.0h-3.0zM272.7 422.0h3.0v3.0h-3.0zM258.8 434.4h3.0v3.0h-3.0zM259.3 440.1h3.0v3.0h-3.0zM257.3 440.1h3.0v3.0h-3.0zM262.7 435.6h3.0v3.0h-3.0zM269.5 441.5h3.0v3.0h-3.0zM280.4 430.4h3.0v3.0h-3.0zM268.5 444.2h3.0v3.0h-3.0zM259.5 434.5h3.0v3.0h-3.0zM282.9 429.2h3.0v3.0h-3.0zM267.5 419.7h3.0v3.0h-3.0zM255.9 433.3h3.0v3.0h-3.0zM269.9 434.4h3.0v3.0h-3.0zM273.1 419.2h3.0v3.0h-3.0zM261.7 424.8h3.0v3.0h-3.0zM260.3 434.4h3.0v3.0h-3.0zM274.1 433.5h3.0v3.0h-3.0zM277.8 431.0h3.0v3.0h-3.0zM266.8 430.8h3.0v3.0h-3.0zM263.3 430.1h3.0v3.0h-3.0zM267.0 437.7h3.0v3.0h-3.0zM265.2 427.8h3.0v3.0h-3.0zM267.0 434.5h3.0v3.0h-3.0zM252.8 429.8h3.0v3.0h-3.0zM282.4 427.4h3.0v3.0h-3.0zM261.5 428.5h3.0v3.0h-3.0zM268.5 424.2h3.0v3.0h-3.0zM259.1 433.1h3.0v3.0h-3.0zM276.6 437.9h3.0v3.0h-3.0zM282.4 427.2h3.0v3.0h-3.0zM285.9 439.9h3.0v3.0h-3.0zM261.3 427.6h3.0v3.0h-3.0zM272.1 422.0h3.0v3.0h-3.0zM250.9 430.7h3.0v3.0h-3.0zM265.3 439.5h3.0v3.0h-3.0zM284.1 432.1h3.0v3.0h-3.0zM296.9 437.7h3.0v3.0h-3.0zM294.2 423.9h3.0v3.0h-3.0zM298.9 432.3h3.0v3.0h-3.0zM271.1 436.6h3.0v3.0h-3.0zM301.7 445.1h3.0v3.0h-3.0zM291.1 457.3h3.0v3.0h-3.0zM291.9 429.0h3.0v3.0h-3.0zM298.3 436.3h3.0v3.0h-3.0zM279.7 425.4h3.0v3.0h-3.0zM303.2 436.0h3.0v3.0h-3.0zM307.0 439.7h3.0v3.0h-3.0zM281.8 431.8h3.0v3.0h-3.0zM278.8 435.8h3.0v3.0h-3.0zM291.4 420.8h3.0v3.0h-3.0zM285.3 437.3h3.0v3.0h-3.0zM285.0 440.2h3.0v3.0h-3.0zM287.4 442.0h3.0v3.0h-3.0zM294.3 428.7h3.0v3.0h-3.0zM302.5 440.4h3.0v3.0h-3.0zM276.5 438.9h3.0v3.0h-3.0zM314.0 431.7h3.0v3.0h-3.0zM302.2 442.2h3.0v3.0h-3.0zM305.0 423.6h3.0v3.0h-3.0zM307.2 438.9h3.0v3.0h-3.0zM312.1 443.2h3.0v3.0h-3.0zM303.6 429.7h3.0v3.0h-3.0zM339.3 426.1h3.0v3.0h-3.0zM329.7 437.9h3.0v3.0h-3.0zM333.0 429.5h3.0v3.0h-3.0zM351.1 431.9h3.0v3.0h-3.0zM334.0 431.7h3.0v3.0h-3.0zM342.5 433.2h3.0v3.0h-3.0zM234.1 447.0h3.0v3.0h-3.0zM227.1 463.6h3.0v3.0h-3.0zM249.6 467.9h3.0v3.0h-3.0zM261.3 464.5h3.0v3.0h-3.0zM230.0 449.7h3.0v3.0h-3.0zM234.4 446.0h3.0v3.0h-3.0zM255.8 446.7h3.0v3.0h-3.0zM244.0 466.8h3.0v3.0h-3.0zM255.4 474.2h3.0v3.0h-3.0zM272.1 471.1h3.0v3.0h-3.0zM276.0 452.5h3.0v3.0h-3.0zM278.4 460.8h3.0v3.0h-3.0zM265.3 460.8h3.0v3.0h-3.0zM278.0 450.4h3.0v3.0h-3.0zM267.1 453.9h3.0v3.0h-3.0zM262.7 470.3h3.0v3.0h-3.0zM261.4 465.2h3.0v3.0h-3.0zM270.2 455.6h3.0v3.0h-3.0zM271.7 466.5h3.0v3.0h-3.0zM266.4 465.5h3.0v3.0h-3.0zM255.7 457.9h3.0v3.0h-3.0zM259.2 450.2h3.0v3.0h-3.0zM264.3 466.1h3.0v3.0h-3.0zM305.5 452.6h3.0v3.0h-3.0zM294.2 475.8h3.0v3.0h-3.0zM302.3 468.9h3.0v3.0h-3.0zM284.8 474.5h3.0v3.0h-3.0zM298.9 464.3h3.0v3.0h-3.0zM299.0 452.9h3.0v3.0h-3.0zM280.5 458.7h3.0v3.0h-3.0zM307.4 454.9h3.0v3.0h-3.0zM306.2 465.3h3.0v3.0h-3.0zM289.0 456.9h3.0v3.0h-3.0zM294.6 444.0h3.0v3.0h-3.0zM291.1 452.4h3.0v3.0h-3.0zM290.1 460.4h3.0v3.0h-3.0zM318.1 470.3h3.0v3.0h-3.0zM318.4 453.9h3.0v3.0h-3.0zM313.1 461.4h3.0v3.0h-3.0zM316.4 449.3h3.0v3.0h-3.0zM321.4 458.5h3.0v3.0h-3.0zM333.2 466.8h3.0v3.0h-3.0zM339.3 469.7h3.0v3.0h-3.0zM346.0 462.5h3.0v3.0h-3.0zM342.7 458.2h3.0v3.0h-3.0zM238.1 487.7h3.0v3.0h-3.0zM243.3 479.7h3.0v3.0h-3.0zM276.3 489.1h3.0v3.0h-3.0zM272.2 481.5h3.0v3.0h-3.0zM260.6 483.7h3.0v3.0h-3.0zM262.5 480.3h3.0v3.0h-3.0zM254.9 485.4h3.0v3.0h-3.0zM258.9 491.2h3.0v3.0h-3.0zM260.5 480.7h3.0v3.0h-3.0zM277.8 474.0h3.0v3.0h-3.0zM277.5 489.5h3.0v3.0h-3.0zM271.5 492.8h3.0v3.0h-3.0zM278.1 488.0h3.0v3.0h-3.0zM265.1 491.4h3.0v3.0h-3.0zM255.9 487.1h3.0v3.0h-3.0zM305.5 481.5h3.0v3.0h-3.0zM292.4 473.8h3.0v3.0h-3.0zM299.6 486.8h3.0v3.0h-3.0zM300.7 482.2h3.0v3.0h-3.0zM322.2 482.4h3.0v3.0h-3.0zM308.0 482.1h3.0v3.0h-3.0zM350.5 480.2h3.0v3.0h-3.0zM355.7 485.9h3.0v3.0h-3.0z" fill="#471084"/>
<path d="M350.2 12.8V517.0M156.0 366.5H718.5" fill="none" stroke="#000" stroke-width="2.8"/>
<path d="M196.40 517.00V524.3 M148.7 480.92H156.00 M221.31 517.00V524.3 M148.7 458.64H156.00 M238.99 517.00V524.3 M148.7 442.84H156.00 M252.70 517.00V524.3 M148.7 430.58H156.00 M263.91 517.00V524.3 M148.7 420.56H156.00 M273.38 517.00V524.3 M148.7 412.10H156.00 M281.59 517.00V524.3 M148.7 404.76H156.00 M288.83 517.00V524.3 M148.7 398.29H156.00 M338.11 517.00V524.3 M148.7 354.19H156.00 M363.15 517.00V524.3 M148.7 331.79H156.00 M380.91 517.00V524.3 M148.7 315.89H156.00 M394.69 517.00V524.3 M148.7 303.56H156.00 M405.95 517.00V524.3 M148.7 293.48H156.00 M415.47 517.00V524.3 M148.7 284.96H156.00 M423.72 517.00V524.3 M148.7 277.58H156.00 M430.99 517.00V524.3 M148.7 271.07H156.00 M479.40 517.00V524.3 M148.7 227.70H156.00 M503.92 517.00V524.3 M148.7 205.73H156.00 M521.31 517.00V524.3 M148.7 190.14H156.00 M534.80 517.00V524.3 M148.7 178.05H156.00 M545.82 517.00V524.3 M148.7 168.18H156.00 M555.14 517.00V524.3 M148.7 159.82H156.00 M563.21 517.00V524.3 M148.7 152.59H156.00 M570.33 517.00V524.3 M148.7 146.21H156.00 M619.39 517.00V524.3 M148.7 102.09H156.00 M644.36 517.00V524.3 M148.7 79.62H156.00 M662.07 517.00V524.3 M148.7 63.68H156.00 M675.81 517.00V524.3 M148.7 51.31H156.00 M687.04 517.00V524.3 M148.7 41.21H156.00 M696.53 517.00V524.3 M148.7 32.67H156.00 M704.76 517.00V524.3 M148.7 25.27H156.00 M712.01 517.00V524.3 M148.7 18.74H156.00 M295.30 517.00V532.6 M140 392.50H156.00 M437.50 517.00V532.6 M140 265.25H156.00 M576.70 517.00V532.6 M140 140.50H156.00 M718.50 517.00V532.6 M140 12.90H156.00" fill="none" stroke="#000" stroke-width="2.6"/>
<path d="M156.0 12.8H718.5V517.0H156.0Z" fill="none" stroke="#000" stroke-width="3.0"/>
<path d="M285.10 543.50V561.00" stroke="#000" stroke-width="2.7" fill="none"/><path d="M280.40 548.70L285.37 544.40" stroke="#000" stroke-width="2.0" fill="none"/><text class="tk" transform="translate(290.05 561.00) scale(0.9 1)">0</text><text class="sp" x="303.45" y="551.00">0</text><path d="M427.30 543.50V561.00" stroke="#000" stroke-width="2.7" fill="none"/><path d="M422.60 548.70L427.57 544.40" stroke="#000" stroke-width="2.0" fill="none"/><text class="tk" transform="translate(432.25 561.00) scale(0.9 1)">0</text><path d="M450.90 539.90V551.10" stroke="#000" stroke-width="1.9" fill="none"/><path d="M447.30 542.90L451.09 540.66" stroke="#000" stroke-width="1.7" fill="none"/><path d="M566.50 543.50V561.00" stroke="#000" stroke-width="2.7" fill="none"/><path d="M561.80 548.70L566.77 544.40" stroke="#000" stroke-width="2.0" fill="none"/><text class="tk" transform="translate(571.45 561.00) scale(0.9 1)">0</text><text class="sp" x="584.85" y="551.00">2</text><path d="M708.30 543.50V561.00" stroke="#000" stroke-width="2.7" fill="none"/><path d="M703.60 548.70L708.57 544.40" stroke="#000" stroke-width="2.0" fill="none"/><text class="tk" transform="translate(713.25 561.00) scale(0.9 1)">0</text><text class="sp" x="726.65" y="551.00">3</text><path d="M107.15 383.60V401.10" stroke="#000" stroke-width="2.7" fill="none"/><path d="M102.45 388.80L107.42 384.50" stroke="#000" stroke-width="2.0" fill="none"/><text class="tk" transform="translate(112.10 401.10) scale(0.9 1)">0</text><text class="sp" x="125.50" y="391.10">0</text><path d="M107.15 256.35V273.85" stroke="#000" stroke-width="2.7" fill="none"/><path d="M102.45 261.55L107.42 257.25" stroke="#000" stroke-width="2.0" fill="none"/><text class="tk" transform="translate(112.10 273.85) scale(0.9 1)">0</text><path d="M130.75 252.75V263.95" stroke="#000" stroke-width="1.9" fill="none"/><path d="M127.15 255.75L130.94 253.52" stroke="#000" stroke-width="1.7" fill="none"/><path d="M107.15 131.60V149.10" stroke="#000" stroke-width="2.7" fill="none"/><path d="M102.45 136.80L107.42 132.50" stroke="#000" stroke-width="2.0" fill="none"/><text class="tk" transform="translate(112.10 149.10) scale(0.9 1)">0</text><text class="sp" x="125.50" y="139.10">2</text><path d="M107.15 4.00V21.50" stroke="#000" stroke-width="2.7" fill="none"/><path d="M102.45 9.20L107.42 4.90" stroke="#000" stroke-width="2.0" fill="none"/><text class="tk" transform="translate(112.10 21.50) scale(0.9 1)">0</text><text class="sp" x="125.50" y="11.50">3</text>
<text class="ti" transform="translate(368.5 599.6) scale(0.873 1)">CD3ε-FITC</text>
<text class="ti" transform="translate(86 319.4) rotate(-90) scale(0.855 1)">Qa-2-PE</text>
</svg>
</body></html>
